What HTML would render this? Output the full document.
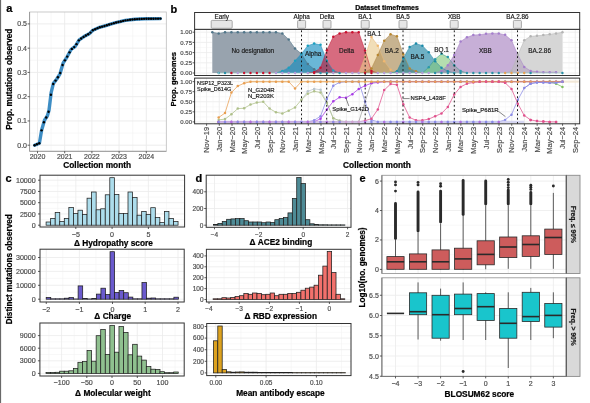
<!DOCTYPE html>
<html><head><meta charset="utf-8"><style>
html,body{margin:0;padding:0;background:#fff;width:590px;height:403px;overflow:hidden}
svg{display:block;font-family:"Liberation Sans", sans-serif;will-change:transform;filter:blur(0.35px)}
</style></head><body>
<svg width="590" height="403" viewBox="0 0 590 403">
<rect x="0" y="0" width="590" height="403" fill="#fff"/>
<line x1="0.6" y1="0" x2="0.6" y2="403" stroke="#5a5a5a" stroke-width="1"/>
<text x="6.2" y="11.6" font-size="11" text-anchor="start" font-weight="bold" fill="#000" stroke="#000" stroke-width="0.22">a</text>
<text x="170.6" y="12.8" font-size="11" text-anchor="start" font-weight="bold" fill="#000" stroke="#000" stroke-width="0.22">b</text>
<text x="5.4" y="182" font-size="11" text-anchor="start" font-weight="bold" fill="#000" stroke="#000" stroke-width="0.22">c</text>
<text x="195.4" y="181.6" font-size="11" text-anchor="start" font-weight="bold" fill="#000" stroke="#000" stroke-width="0.22">d</text>
<text x="359.6" y="181.6" font-size="11" text-anchor="start" font-weight="bold" fill="#000" stroke="#000" stroke-width="0.22">e</text>
<rect x="29.6" y="12" width="136.7" height="139.3" fill="#fff" stroke="none" stroke-width="1"/>
<line x1="29.6" y1="133.07" x2="166.3" y2="133.07" stroke="#F3F3F3" stroke-width="0.6"/>
<line x1="29.6" y1="108.81" x2="166.3" y2="108.81" stroke="#F3F3F3" stroke-width="0.6"/>
<line x1="29.6" y1="84.55" x2="166.3" y2="84.55" stroke="#F3F3F3" stroke-width="0.6"/>
<line x1="29.6" y1="60.29" x2="166.3" y2="60.29" stroke="#F3F3F3" stroke-width="0.6"/>
<line x1="29.6" y1="36.03" x2="166.3" y2="36.03" stroke="#F3F3F3" stroke-width="0.6"/>
<line x1="51.1" y1="12" x2="51.1" y2="151.3" stroke="#F3F3F3" stroke-width="0.6"/>
<line x1="78.3" y1="12" x2="78.3" y2="151.3" stroke="#F3F3F3" stroke-width="0.6"/>
<line x1="105.5" y1="12" x2="105.5" y2="151.3" stroke="#F3F3F3" stroke-width="0.6"/>
<line x1="132.7" y1="12" x2="132.7" y2="151.3" stroke="#F3F3F3" stroke-width="0.6"/>
<line x1="29.6" y1="145.2" x2="166.3" y2="145.2" stroke="#EBEBEB" stroke-width="0.9"/>
<line x1="29.6" y1="120.94" x2="166.3" y2="120.94" stroke="#EBEBEB" stroke-width="0.9"/>
<line x1="29.6" y1="96.68" x2="166.3" y2="96.68" stroke="#EBEBEB" stroke-width="0.9"/>
<line x1="29.6" y1="72.42" x2="166.3" y2="72.42" stroke="#EBEBEB" stroke-width="0.9"/>
<line x1="29.6" y1="48.16" x2="166.3" y2="48.16" stroke="#EBEBEB" stroke-width="0.9"/>
<line x1="29.6" y1="23.9" x2="166.3" y2="23.9" stroke="#EBEBEB" stroke-width="0.9"/>
<line x1="37.5" y1="12" x2="37.5" y2="151.3" stroke="#EBEBEB" stroke-width="0.9"/>
<line x1="64.7" y1="12" x2="64.7" y2="151.3" stroke="#EBEBEB" stroke-width="0.9"/>
<line x1="91.9" y1="12" x2="91.9" y2="151.3" stroke="#EBEBEB" stroke-width="0.9"/>
<line x1="119.1" y1="12" x2="119.1" y2="151.3" stroke="#EBEBEB" stroke-width="0.9"/>
<line x1="146.3" y1="12" x2="146.3" y2="151.3" stroke="#EBEBEB" stroke-width="0.9"/>
<rect x="29.6" y="12" width="136.7" height="139.3" fill="none" stroke="#BDBDBD" stroke-width="0.8"/>
<line x1="29.6" y1="12" x2="29.6" y2="151.3" stroke="#9a9a9a" stroke-width="1"/>
<line x1="29.6" y1="151.3" x2="166.3" y2="151.3" stroke="#9a9a9a" stroke-width="1"/>
<line x1="27.6" y1="145.2" x2="29.6" y2="145.2" stroke="#333" stroke-width="0.8"/>
<text x="27" y="147.7" font-size="7" text-anchor="end" font-weight="normal" fill="#4D4D4D" stroke="#4D4D4D" stroke-width="0.18">0.0</text>
<line x1="27.6" y1="120.94" x2="29.6" y2="120.94" stroke="#333" stroke-width="0.8"/>
<text x="27" y="123.44" font-size="7" text-anchor="end" font-weight="normal" fill="#4D4D4D" stroke="#4D4D4D" stroke-width="0.18">0.1</text>
<line x1="27.6" y1="96.68" x2="29.6" y2="96.68" stroke="#333" stroke-width="0.8"/>
<text x="27" y="99.18" font-size="7" text-anchor="end" font-weight="normal" fill="#4D4D4D" stroke="#4D4D4D" stroke-width="0.18">0.2</text>
<line x1="27.6" y1="72.42" x2="29.6" y2="72.42" stroke="#333" stroke-width="0.8"/>
<text x="27" y="74.92" font-size="7" text-anchor="end" font-weight="normal" fill="#4D4D4D" stroke="#4D4D4D" stroke-width="0.18">0.3</text>
<line x1="27.6" y1="48.16" x2="29.6" y2="48.16" stroke="#333" stroke-width="0.8"/>
<text x="27" y="50.66" font-size="7" text-anchor="end" font-weight="normal" fill="#4D4D4D" stroke="#4D4D4D" stroke-width="0.18">0.4</text>
<line x1="27.6" y1="23.9" x2="29.6" y2="23.9" stroke="#333" stroke-width="0.8"/>
<text x="27" y="26.4" font-size="7" text-anchor="end" font-weight="normal" fill="#4D4D4D" stroke="#4D4D4D" stroke-width="0.18">0.5</text>
<line x1="37.5" y1="151.3" x2="37.5" y2="153.3" stroke="#333" stroke-width="0.8"/>
<text x="37.5" y="159.2" font-size="7" text-anchor="middle" font-weight="normal" fill="#4D4D4D" stroke="#4D4D4D" stroke-width="0.18">2020</text>
<line x1="64.7" y1="151.3" x2="64.7" y2="153.3" stroke="#333" stroke-width="0.8"/>
<text x="64.7" y="159.2" font-size="7" text-anchor="middle" font-weight="normal" fill="#4D4D4D" stroke="#4D4D4D" stroke-width="0.18">2021</text>
<line x1="91.9" y1="151.3" x2="91.9" y2="153.3" stroke="#333" stroke-width="0.8"/>
<text x="91.9" y="159.2" font-size="7" text-anchor="middle" font-weight="normal" fill="#4D4D4D" stroke="#4D4D4D" stroke-width="0.18">2022</text>
<line x1="119.1" y1="151.3" x2="119.1" y2="153.3" stroke="#333" stroke-width="0.8"/>
<text x="119.1" y="159.2" font-size="7" text-anchor="middle" font-weight="normal" fill="#4D4D4D" stroke="#4D4D4D" stroke-width="0.18">2023</text>
<line x1="146.3" y1="151.3" x2="146.3" y2="153.3" stroke="#333" stroke-width="0.8"/>
<text x="146.3" y="159.2" font-size="7" text-anchor="middle" font-weight="normal" fill="#4D4D4D" stroke="#4D4D4D" stroke-width="0.18">2024</text>
<text x="97.2" y="167.9" font-size="8.3" text-anchor="middle" font-weight="bold" fill="#000" stroke="#000" stroke-width="0.22">Collection month</text>
<text x="12" y="79.2" font-size="8.2" text-anchor="middle" font-weight="bold" fill="#000" transform="rotate(-90 12 79.2)" stroke="#000" stroke-width="0.22">Prop. mutations observed</text>
<polyline points="34.6,145.2 39.4,143.2 41.6,130.3 44.5,120.2 47.4,115.8 49,110.2 51.2,92.3 53.4,83.4 56.8,79 60,73.8 63.1,63.2 67.1,56.8 71.1,49.5 75.2,46.3 79.2,39.8 84,36.6 89.7,33.4 92.9,30.2 98.5,27.7 105,25.8 114.7,22.9 125.3,20.4 135,19.2 144.7,18.8 160.4,18.6" fill="none" stroke="#3D8DC4" stroke-width="3.4" stroke-linejoin="round" stroke-linecap="round"/>
<circle cx="34.6" cy="145.2" r="1.2" fill="#000"/>
<circle cx="36.93" cy="144.23" r="1.2" fill="#000"/>
<circle cx="39.26" cy="143.26" r="1.2" fill="#000"/>
<circle cx="41.59" cy="130.37" r="1.2" fill="#000"/>
<circle cx="43.92" cy="122.23" r="1.2" fill="#000"/>
<circle cx="46.25" cy="117.55" r="1.2" fill="#000"/>
<circle cx="48.58" cy="111.68" r="1.2" fill="#000"/>
<circle cx="50.91" cy="94.68" r="1.2" fill="#000"/>
<circle cx="53.24" cy="84.06" r="1.2" fill="#000"/>
<circle cx="55.57" cy="80.6" r="1.2" fill="#000"/>
<circle cx="57.9" cy="77.22" r="1.2" fill="#000"/>
<circle cx="60.23" cy="73.03" r="1.2" fill="#000"/>
<circle cx="62.56" cy="65.06" r="1.2" fill="#000"/>
<circle cx="64.89" cy="60.34" r="1.2" fill="#000"/>
<circle cx="67.21" cy="56.59" r="1.2" fill="#000"/>
<circle cx="69.54" cy="52.34" r="1.2" fill="#000"/>
<circle cx="71.87" cy="48.9" r="1.2" fill="#000"/>
<circle cx="74.2" cy="47.08" r="1.2" fill="#000"/>
<circle cx="76.53" cy="44.13" r="1.2" fill="#000"/>
<circle cx="78.86" cy="40.35" r="1.2" fill="#000"/>
<circle cx="81.19" cy="38.47" r="1.2" fill="#000"/>
<circle cx="83.52" cy="36.92" r="1.2" fill="#000"/>
<circle cx="85.85" cy="35.56" r="1.2" fill="#000"/>
<circle cx="88.18" cy="34.25" r="1.2" fill="#000"/>
<circle cx="90.51" cy="32.59" r="1.2" fill="#000"/>
<circle cx="92.84" cy="30.26" r="1.2" fill="#000"/>
<circle cx="95.17" cy="29.19" r="1.2" fill="#000"/>
<circle cx="97.5" cy="28.15" r="1.2" fill="#000"/>
<circle cx="99.83" cy="27.31" r="1.2" fill="#000"/>
<circle cx="102.16" cy="26.63" r="1.2" fill="#000"/>
<circle cx="104.49" cy="25.95" r="1.2" fill="#000"/>
<circle cx="106.82" cy="25.26" r="1.2" fill="#000"/>
<circle cx="109.15" cy="24.56" r="1.2" fill="#000"/>
<circle cx="111.48" cy="23.86" r="1.2" fill="#000"/>
<circle cx="113.81" cy="23.17" r="1.2" fill="#000"/>
<circle cx="116.14" cy="22.56" r="1.2" fill="#000"/>
<circle cx="118.47" cy="22.01" r="1.2" fill="#000"/>
<circle cx="120.8" cy="21.46" r="1.2" fill="#000"/>
<circle cx="123.13" cy="20.91" r="1.2" fill="#000"/>
<circle cx="125.46" cy="20.38" r="1.2" fill="#000"/>
<circle cx="127.79" cy="20.09" r="1.2" fill="#000"/>
<circle cx="130.11" cy="19.8" r="1.2" fill="#000"/>
<circle cx="132.44" cy="19.52" r="1.2" fill="#000"/>
<circle cx="134.77" cy="19.23" r="1.2" fill="#000"/>
<circle cx="137.1" cy="19.11" r="1.2" fill="#000"/>
<circle cx="139.43" cy="19.02" r="1.2" fill="#000"/>
<circle cx="141.76" cy="18.92" r="1.2" fill="#000"/>
<circle cx="144.09" cy="18.83" r="1.2" fill="#000"/>
<circle cx="146.42" cy="18.78" r="1.2" fill="#000"/>
<circle cx="148.75" cy="18.75" r="1.2" fill="#000"/>
<circle cx="151.08" cy="18.72" r="1.2" fill="#000"/>
<circle cx="153.41" cy="18.69" r="1.2" fill="#000"/>
<circle cx="155.74" cy="18.66" r="1.2" fill="#000"/>
<circle cx="158.07" cy="18.63" r="1.2" fill="#000"/>
<circle cx="160.4" cy="18.6" r="1.2" fill="#000"/>
<text x="387" y="10.3" font-size="6.9" text-anchor="middle" font-weight="bold" fill="#000" stroke="#000" stroke-width="0.22">Dataset timeframes</text>
<rect x="194.6" y="12.5" width="385.1" height="16.9" fill="#fff" stroke="#333" stroke-width="1"/>
<rect x="211.2" y="20.4" width="21" height="7.9" fill="#E6E6E6" stroke="#8a8a8a" stroke-width="0.7" rx="1"/>
<text x="221.7" y="18.6" font-size="6.3" text-anchor="middle" font-weight="normal" fill="#1a1a1a" stroke="#1a1a1a" stroke-width="0.18">Early</text>
<rect x="297.6" y="20.4" width="8" height="7.9" fill="#E6E6E6" stroke="#8a8a8a" stroke-width="0.7" rx="1"/>
<text x="301.6" y="18.6" font-size="6.3" text-anchor="middle" font-weight="normal" fill="#1a1a1a" stroke="#1a1a1a" stroke-width="0.18">Alpha</text>
<rect x="323" y="20.4" width="8" height="7.9" fill="#E6E6E6" stroke="#8a8a8a" stroke-width="0.7" rx="1"/>
<text x="327" y="18.6" font-size="6.3" text-anchor="middle" font-weight="normal" fill="#1a1a1a" stroke="#1a1a1a" stroke-width="0.18">Delta</text>
<rect x="361.2" y="20.4" width="8" height="7.9" fill="#E6E6E6" stroke="#8a8a8a" stroke-width="0.7" rx="1"/>
<text x="365.2" y="18.6" font-size="6.3" text-anchor="middle" font-weight="normal" fill="#1a1a1a" stroke="#1a1a1a" stroke-width="0.18">BA.1</text>
<rect x="399" y="20.4" width="8" height="7.9" fill="#E6E6E6" stroke="#8a8a8a" stroke-width="0.7" rx="1"/>
<text x="403" y="18.6" font-size="6.3" text-anchor="middle" font-weight="normal" fill="#1a1a1a" stroke="#1a1a1a" stroke-width="0.18">BA.5</text>
<rect x="450.2" y="20.4" width="8" height="7.9" fill="#E6E6E6" stroke="#8a8a8a" stroke-width="0.7" rx="1"/>
<text x="454.2" y="18.6" font-size="6.3" text-anchor="middle" font-weight="normal" fill="#1a1a1a" stroke="#1a1a1a" stroke-width="0.18">XBB</text>
<rect x="513.4" y="20.4" width="8" height="7.9" fill="#E6E6E6" stroke="#8a8a8a" stroke-width="0.7" rx="1"/>
<text x="517.4" y="18.6" font-size="6.3" text-anchor="middle" font-weight="normal" fill="#1a1a1a" stroke="#1a1a1a" stroke-width="0.18">BA.2.86</text>
<rect x="194.6" y="29.4" width="385.1" height="46.1" fill="#fff" stroke="none" stroke-width="1"/>
<line x1="194.6" y1="67.9" x2="579.7" y2="67.9" stroke="#F2F2F2" stroke-width="0.5"/>
<line x1="194.6" y1="57.7" x2="579.7" y2="57.7" stroke="#F2F2F2" stroke-width="0.5"/>
<line x1="194.6" y1="47.5" x2="579.7" y2="47.5" stroke="#F2F2F2" stroke-width="0.5"/>
<line x1="194.6" y1="37.3" x2="579.7" y2="37.3" stroke="#F2F2F2" stroke-width="0.5"/>
<line x1="194.6" y1="73" x2="579.7" y2="73" stroke="#EBEBEB" stroke-width="0.8"/>
<line x1="194.6" y1="62.8" x2="579.7" y2="62.8" stroke="#EBEBEB" stroke-width="0.8"/>
<line x1="194.6" y1="52.6" x2="579.7" y2="52.6" stroke="#EBEBEB" stroke-width="0.8"/>
<line x1="194.6" y1="42.4" x2="579.7" y2="42.4" stroke="#EBEBEB" stroke-width="0.8"/>
<line x1="194.6" y1="32.2" x2="579.7" y2="32.2" stroke="#EBEBEB" stroke-width="0.8"/>
<line x1="200.24" y1="29.4" x2="200.24" y2="75.5" stroke="#F2F2F2" stroke-width="0.5"/>
<line x1="212.96" y1="29.4" x2="212.96" y2="75.5" stroke="#F2F2F2" stroke-width="0.5"/>
<line x1="225.67" y1="29.4" x2="225.67" y2="75.5" stroke="#F2F2F2" stroke-width="0.5"/>
<line x1="238.38" y1="29.4" x2="238.38" y2="75.5" stroke="#F2F2F2" stroke-width="0.5"/>
<line x1="251.1" y1="29.4" x2="251.1" y2="75.5" stroke="#F2F2F2" stroke-width="0.5"/>
<line x1="263.81" y1="29.4" x2="263.81" y2="75.5" stroke="#F2F2F2" stroke-width="0.5"/>
<line x1="276.53" y1="29.4" x2="276.53" y2="75.5" stroke="#F2F2F2" stroke-width="0.5"/>
<line x1="289.24" y1="29.4" x2="289.24" y2="75.5" stroke="#F2F2F2" stroke-width="0.5"/>
<line x1="301.95" y1="29.4" x2="301.95" y2="75.5" stroke="#F2F2F2" stroke-width="0.5"/>
<line x1="314.67" y1="29.4" x2="314.67" y2="75.5" stroke="#F2F2F2" stroke-width="0.5"/>
<line x1="327.38" y1="29.4" x2="327.38" y2="75.5" stroke="#F2F2F2" stroke-width="0.5"/>
<line x1="340.1" y1="29.4" x2="340.1" y2="75.5" stroke="#F2F2F2" stroke-width="0.5"/>
<line x1="352.81" y1="29.4" x2="352.81" y2="75.5" stroke="#F2F2F2" stroke-width="0.5"/>
<line x1="365.52" y1="29.4" x2="365.52" y2="75.5" stroke="#F2F2F2" stroke-width="0.5"/>
<line x1="378.24" y1="29.4" x2="378.24" y2="75.5" stroke="#F2F2F2" stroke-width="0.5"/>
<line x1="390.95" y1="29.4" x2="390.95" y2="75.5" stroke="#F2F2F2" stroke-width="0.5"/>
<line x1="403.67" y1="29.4" x2="403.67" y2="75.5" stroke="#F2F2F2" stroke-width="0.5"/>
<line x1="416.38" y1="29.4" x2="416.38" y2="75.5" stroke="#F2F2F2" stroke-width="0.5"/>
<line x1="429.09" y1="29.4" x2="429.09" y2="75.5" stroke="#F2F2F2" stroke-width="0.5"/>
<line x1="441.81" y1="29.4" x2="441.81" y2="75.5" stroke="#F2F2F2" stroke-width="0.5"/>
<line x1="454.52" y1="29.4" x2="454.52" y2="75.5" stroke="#F2F2F2" stroke-width="0.5"/>
<line x1="467.24" y1="29.4" x2="467.24" y2="75.5" stroke="#F2F2F2" stroke-width="0.5"/>
<line x1="479.95" y1="29.4" x2="479.95" y2="75.5" stroke="#F2F2F2" stroke-width="0.5"/>
<line x1="492.67" y1="29.4" x2="492.67" y2="75.5" stroke="#F2F2F2" stroke-width="0.5"/>
<line x1="505.38" y1="29.4" x2="505.38" y2="75.5" stroke="#F2F2F2" stroke-width="0.5"/>
<line x1="518.09" y1="29.4" x2="518.09" y2="75.5" stroke="#F2F2F2" stroke-width="0.5"/>
<line x1="530.81" y1="29.4" x2="530.81" y2="75.5" stroke="#F2F2F2" stroke-width="0.5"/>
<line x1="543.52" y1="29.4" x2="543.52" y2="75.5" stroke="#F2F2F2" stroke-width="0.5"/>
<line x1="556.24" y1="29.4" x2="556.24" y2="75.5" stroke="#F2F2F2" stroke-width="0.5"/>
<line x1="568.95" y1="29.4" x2="568.95" y2="75.5" stroke="#F2F2F2" stroke-width="0.5"/>
<line x1="206.6" y1="29.4" x2="206.6" y2="75.5" stroke="#EBEBEB" stroke-width="0.8"/>
<line x1="219.31" y1="29.4" x2="219.31" y2="75.5" stroke="#EBEBEB" stroke-width="0.8"/>
<line x1="232.03" y1="29.4" x2="232.03" y2="75.5" stroke="#EBEBEB" stroke-width="0.8"/>
<line x1="244.74" y1="29.4" x2="244.74" y2="75.5" stroke="#EBEBEB" stroke-width="0.8"/>
<line x1="257.46" y1="29.4" x2="257.46" y2="75.5" stroke="#EBEBEB" stroke-width="0.8"/>
<line x1="270.17" y1="29.4" x2="270.17" y2="75.5" stroke="#EBEBEB" stroke-width="0.8"/>
<line x1="282.88" y1="29.4" x2="282.88" y2="75.5" stroke="#EBEBEB" stroke-width="0.8"/>
<line x1="295.6" y1="29.4" x2="295.6" y2="75.5" stroke="#EBEBEB" stroke-width="0.8"/>
<line x1="308.31" y1="29.4" x2="308.31" y2="75.5" stroke="#EBEBEB" stroke-width="0.8"/>
<line x1="321.03" y1="29.4" x2="321.03" y2="75.5" stroke="#EBEBEB" stroke-width="0.8"/>
<line x1="333.74" y1="29.4" x2="333.74" y2="75.5" stroke="#EBEBEB" stroke-width="0.8"/>
<line x1="346.45" y1="29.4" x2="346.45" y2="75.5" stroke="#EBEBEB" stroke-width="0.8"/>
<line x1="359.17" y1="29.4" x2="359.17" y2="75.5" stroke="#EBEBEB" stroke-width="0.8"/>
<line x1="371.88" y1="29.4" x2="371.88" y2="75.5" stroke="#EBEBEB" stroke-width="0.8"/>
<line x1="384.6" y1="29.4" x2="384.6" y2="75.5" stroke="#EBEBEB" stroke-width="0.8"/>
<line x1="397.31" y1="29.4" x2="397.31" y2="75.5" stroke="#EBEBEB" stroke-width="0.8"/>
<line x1="410.02" y1="29.4" x2="410.02" y2="75.5" stroke="#EBEBEB" stroke-width="0.8"/>
<line x1="422.74" y1="29.4" x2="422.74" y2="75.5" stroke="#EBEBEB" stroke-width="0.8"/>
<line x1="435.45" y1="29.4" x2="435.45" y2="75.5" stroke="#EBEBEB" stroke-width="0.8"/>
<line x1="448.17" y1="29.4" x2="448.17" y2="75.5" stroke="#EBEBEB" stroke-width="0.8"/>
<line x1="460.88" y1="29.4" x2="460.88" y2="75.5" stroke="#EBEBEB" stroke-width="0.8"/>
<line x1="473.59" y1="29.4" x2="473.59" y2="75.5" stroke="#EBEBEB" stroke-width="0.8"/>
<line x1="486.31" y1="29.4" x2="486.31" y2="75.5" stroke="#EBEBEB" stroke-width="0.8"/>
<line x1="499.02" y1="29.4" x2="499.02" y2="75.5" stroke="#EBEBEB" stroke-width="0.8"/>
<line x1="511.74" y1="29.4" x2="511.74" y2="75.5" stroke="#EBEBEB" stroke-width="0.8"/>
<line x1="524.45" y1="29.4" x2="524.45" y2="75.5" stroke="#EBEBEB" stroke-width="0.8"/>
<line x1="537.16" y1="29.4" x2="537.16" y2="75.5" stroke="#EBEBEB" stroke-width="0.8"/>
<line x1="549.88" y1="29.4" x2="549.88" y2="75.5" stroke="#EBEBEB" stroke-width="0.8"/>
<line x1="562.59" y1="29.4" x2="562.59" y2="75.5" stroke="#EBEBEB" stroke-width="0.8"/>
<line x1="575.31" y1="29.4" x2="575.31" y2="75.5" stroke="#EBEBEB" stroke-width="0.8"/>
<rect x="194.6" y="78.1" width="385.1" height="45.7" fill="#fff" stroke="none" stroke-width="1"/>
<line x1="194.6" y1="116.87" x2="579.7" y2="116.87" stroke="#F2F2F2" stroke-width="0.5"/>
<line x1="194.6" y1="106.81" x2="579.7" y2="106.81" stroke="#F2F2F2" stroke-width="0.5"/>
<line x1="194.6" y1="96.74" x2="579.7" y2="96.74" stroke="#F2F2F2" stroke-width="0.5"/>
<line x1="194.6" y1="86.68" x2="579.7" y2="86.68" stroke="#F2F2F2" stroke-width="0.5"/>
<line x1="194.6" y1="121.9" x2="579.7" y2="121.9" stroke="#EBEBEB" stroke-width="0.8"/>
<line x1="194.6" y1="111.84" x2="579.7" y2="111.84" stroke="#EBEBEB" stroke-width="0.8"/>
<line x1="194.6" y1="101.78" x2="579.7" y2="101.78" stroke="#EBEBEB" stroke-width="0.8"/>
<line x1="194.6" y1="91.71" x2="579.7" y2="91.71" stroke="#EBEBEB" stroke-width="0.8"/>
<line x1="194.6" y1="81.65" x2="579.7" y2="81.65" stroke="#EBEBEB" stroke-width="0.8"/>
<line x1="200.24" y1="78.1" x2="200.24" y2="123.8" stroke="#F2F2F2" stroke-width="0.5"/>
<line x1="212.96" y1="78.1" x2="212.96" y2="123.8" stroke="#F2F2F2" stroke-width="0.5"/>
<line x1="225.67" y1="78.1" x2="225.67" y2="123.8" stroke="#F2F2F2" stroke-width="0.5"/>
<line x1="238.38" y1="78.1" x2="238.38" y2="123.8" stroke="#F2F2F2" stroke-width="0.5"/>
<line x1="251.1" y1="78.1" x2="251.1" y2="123.8" stroke="#F2F2F2" stroke-width="0.5"/>
<line x1="263.81" y1="78.1" x2="263.81" y2="123.8" stroke="#F2F2F2" stroke-width="0.5"/>
<line x1="276.53" y1="78.1" x2="276.53" y2="123.8" stroke="#F2F2F2" stroke-width="0.5"/>
<line x1="289.24" y1="78.1" x2="289.24" y2="123.8" stroke="#F2F2F2" stroke-width="0.5"/>
<line x1="301.95" y1="78.1" x2="301.95" y2="123.8" stroke="#F2F2F2" stroke-width="0.5"/>
<line x1="314.67" y1="78.1" x2="314.67" y2="123.8" stroke="#F2F2F2" stroke-width="0.5"/>
<line x1="327.38" y1="78.1" x2="327.38" y2="123.8" stroke="#F2F2F2" stroke-width="0.5"/>
<line x1="340.1" y1="78.1" x2="340.1" y2="123.8" stroke="#F2F2F2" stroke-width="0.5"/>
<line x1="352.81" y1="78.1" x2="352.81" y2="123.8" stroke="#F2F2F2" stroke-width="0.5"/>
<line x1="365.52" y1="78.1" x2="365.52" y2="123.8" stroke="#F2F2F2" stroke-width="0.5"/>
<line x1="378.24" y1="78.1" x2="378.24" y2="123.8" stroke="#F2F2F2" stroke-width="0.5"/>
<line x1="390.95" y1="78.1" x2="390.95" y2="123.8" stroke="#F2F2F2" stroke-width="0.5"/>
<line x1="403.67" y1="78.1" x2="403.67" y2="123.8" stroke="#F2F2F2" stroke-width="0.5"/>
<line x1="416.38" y1="78.1" x2="416.38" y2="123.8" stroke="#F2F2F2" stroke-width="0.5"/>
<line x1="429.09" y1="78.1" x2="429.09" y2="123.8" stroke="#F2F2F2" stroke-width="0.5"/>
<line x1="441.81" y1="78.1" x2="441.81" y2="123.8" stroke="#F2F2F2" stroke-width="0.5"/>
<line x1="454.52" y1="78.1" x2="454.52" y2="123.8" stroke="#F2F2F2" stroke-width="0.5"/>
<line x1="467.24" y1="78.1" x2="467.24" y2="123.8" stroke="#F2F2F2" stroke-width="0.5"/>
<line x1="479.95" y1="78.1" x2="479.95" y2="123.8" stroke="#F2F2F2" stroke-width="0.5"/>
<line x1="492.67" y1="78.1" x2="492.67" y2="123.8" stroke="#F2F2F2" stroke-width="0.5"/>
<line x1="505.38" y1="78.1" x2="505.38" y2="123.8" stroke="#F2F2F2" stroke-width="0.5"/>
<line x1="518.09" y1="78.1" x2="518.09" y2="123.8" stroke="#F2F2F2" stroke-width="0.5"/>
<line x1="530.81" y1="78.1" x2="530.81" y2="123.8" stroke="#F2F2F2" stroke-width="0.5"/>
<line x1="543.52" y1="78.1" x2="543.52" y2="123.8" stroke="#F2F2F2" stroke-width="0.5"/>
<line x1="556.24" y1="78.1" x2="556.24" y2="123.8" stroke="#F2F2F2" stroke-width="0.5"/>
<line x1="568.95" y1="78.1" x2="568.95" y2="123.8" stroke="#F2F2F2" stroke-width="0.5"/>
<line x1="206.6" y1="78.1" x2="206.6" y2="123.8" stroke="#EBEBEB" stroke-width="0.8"/>
<line x1="219.31" y1="78.1" x2="219.31" y2="123.8" stroke="#EBEBEB" stroke-width="0.8"/>
<line x1="232.03" y1="78.1" x2="232.03" y2="123.8" stroke="#EBEBEB" stroke-width="0.8"/>
<line x1="244.74" y1="78.1" x2="244.74" y2="123.8" stroke="#EBEBEB" stroke-width="0.8"/>
<line x1="257.46" y1="78.1" x2="257.46" y2="123.8" stroke="#EBEBEB" stroke-width="0.8"/>
<line x1="270.17" y1="78.1" x2="270.17" y2="123.8" stroke="#EBEBEB" stroke-width="0.8"/>
<line x1="282.88" y1="78.1" x2="282.88" y2="123.8" stroke="#EBEBEB" stroke-width="0.8"/>
<line x1="295.6" y1="78.1" x2="295.6" y2="123.8" stroke="#EBEBEB" stroke-width="0.8"/>
<line x1="308.31" y1="78.1" x2="308.31" y2="123.8" stroke="#EBEBEB" stroke-width="0.8"/>
<line x1="321.03" y1="78.1" x2="321.03" y2="123.8" stroke="#EBEBEB" stroke-width="0.8"/>
<line x1="333.74" y1="78.1" x2="333.74" y2="123.8" stroke="#EBEBEB" stroke-width="0.8"/>
<line x1="346.45" y1="78.1" x2="346.45" y2="123.8" stroke="#EBEBEB" stroke-width="0.8"/>
<line x1="359.17" y1="78.1" x2="359.17" y2="123.8" stroke="#EBEBEB" stroke-width="0.8"/>
<line x1="371.88" y1="78.1" x2="371.88" y2="123.8" stroke="#EBEBEB" stroke-width="0.8"/>
<line x1="384.6" y1="78.1" x2="384.6" y2="123.8" stroke="#EBEBEB" stroke-width="0.8"/>
<line x1="397.31" y1="78.1" x2="397.31" y2="123.8" stroke="#EBEBEB" stroke-width="0.8"/>
<line x1="410.02" y1="78.1" x2="410.02" y2="123.8" stroke="#EBEBEB" stroke-width="0.8"/>
<line x1="422.74" y1="78.1" x2="422.74" y2="123.8" stroke="#EBEBEB" stroke-width="0.8"/>
<line x1="435.45" y1="78.1" x2="435.45" y2="123.8" stroke="#EBEBEB" stroke-width="0.8"/>
<line x1="448.17" y1="78.1" x2="448.17" y2="123.8" stroke="#EBEBEB" stroke-width="0.8"/>
<line x1="460.88" y1="78.1" x2="460.88" y2="123.8" stroke="#EBEBEB" stroke-width="0.8"/>
<line x1="473.59" y1="78.1" x2="473.59" y2="123.8" stroke="#EBEBEB" stroke-width="0.8"/>
<line x1="486.31" y1="78.1" x2="486.31" y2="123.8" stroke="#EBEBEB" stroke-width="0.8"/>
<line x1="499.02" y1="78.1" x2="499.02" y2="123.8" stroke="#EBEBEB" stroke-width="0.8"/>
<line x1="511.74" y1="78.1" x2="511.74" y2="123.8" stroke="#EBEBEB" stroke-width="0.8"/>
<line x1="524.45" y1="78.1" x2="524.45" y2="123.8" stroke="#EBEBEB" stroke-width="0.8"/>
<line x1="537.16" y1="78.1" x2="537.16" y2="123.8" stroke="#EBEBEB" stroke-width="0.8"/>
<line x1="549.88" y1="78.1" x2="549.88" y2="123.8" stroke="#EBEBEB" stroke-width="0.8"/>
<line x1="562.59" y1="78.1" x2="562.59" y2="123.8" stroke="#EBEBEB" stroke-width="0.8"/>
<line x1="575.31" y1="78.1" x2="575.31" y2="123.8" stroke="#EBEBEB" stroke-width="0.8"/>
<polygon points="212.3,73 212.3,32.2 218.67,33.42 225.03,32.2 231.4,32.2 237.76,32.2 244.13,32.2 250.5,32.2 256.86,32.2 263.23,32.2 269.59,32.2 275.96,32.2 282.33,33.42 288.69,39.54 295.06,48.52 301.42,53.82 307.79,64.02 314.16,69.33 320.52,73 320.52,73" fill="#fff" stroke="none" stroke-width="0"/>
<polygon points="275.96,73 275.96,73 282.33,70.96 288.69,67.7 295.06,60.76 301.42,53.82 307.79,45.66 314.16,43.62 320.52,44.85 326.89,60.76 333.25,70.55 339.62,73 339.62,73" fill="#fff" stroke="none" stroke-width="0"/>
<polygon points="307.79,73 307.79,73 314.16,72.18 320.52,67.7 326.89,50.15 333.25,36.69 339.62,33.42 345.99,32.2 352.35,32.2 358.72,32.2 365.08,50.56 371.45,70.96 377.82,73 377.82,73" fill="#fff" stroke="none" stroke-width="0"/>
<polygon points="358.72,73 358.72,73 365.08,56.68 371.45,36.89 377.82,45.66 384.18,61.17 390.55,69.74 396.91,73 396.91,73" fill="#fff" stroke="none" stroke-width="0"/>
<polygon points="358.72,73 358.72,73 365.08,72.18 371.45,68.51 377.82,55.05 384.18,40.77 390.55,34.24 396.91,36.28 403.28,54.23 409.65,68.51 416.01,71.37 422.38,73 422.38,73" fill="#fff" stroke="none" stroke-width="0"/>
<polygon points="390.55,73 390.55,73 396.91,71.37 403.28,58.31 409.65,46.89 416.01,43.62 422.38,45.66 428.74,52.19 435.11,61.17 441.48,67.7 447.84,71.37 454.21,73 454.21,73" fill="#fff" stroke="none" stroke-width="0"/>
<polygon points="422.38,73 422.38,73 428.74,67.29 435.11,59.13 441.48,53.82 447.84,57.09 454.21,65.25 460.57,70.96 466.94,73 466.94,73" fill="#fff" stroke="none" stroke-width="0"/>
<polygon points="435.11,73 435.11,73 441.48,70.96 447.84,65.25 454.21,55.05 460.57,41.58 466.94,37.3 473.31,35.06 479.67,34.65 486.04,33.83 492.4,33.42 498.77,33.42 505.14,34.85 511.5,40.36 517.87,55.05 524.23,66.88 530.6,70.96 536.97,71.78 543.33,72.18 549.7,72.18 556.06,72.18 556.06,73" fill="#fff" stroke="none" stroke-width="0"/>
<polygon points="505.14,73 505.14,73 511.5,70.96 517.87,55.05 524.23,40.36 530.6,36.28 536.97,35.87 543.33,35.06 549.7,34.24 556.06,33.42 562.43,32.2 562.43,73" fill="#fff" stroke="none" stroke-width="0"/>
<polygon points="212.3,73 212.3,32.2 218.67,33.42 225.03,32.2 231.4,32.2 237.76,32.2 244.13,32.2 250.5,32.2 256.86,32.2 263.23,32.2 269.59,32.2 275.96,32.2 282.33,33.42 288.69,39.54 295.06,48.52 301.42,53.82 307.79,64.02 314.16,69.33 320.52,73 320.52,73" fill="#586B7C" stroke="none" stroke-width="0" fill-opacity="0.62"/>
<polygon points="275.96,73 275.96,73 282.33,70.96 288.69,67.7 295.06,60.76 301.42,53.82 307.79,45.66 314.16,43.62 320.52,44.85 326.89,60.76 333.25,70.55 339.62,73 339.62,73" fill="#0E8BBE" stroke="none" stroke-width="0" fill-opacity="0.62"/>
<polygon points="307.79,73 307.79,73 314.16,72.18 320.52,67.7 326.89,50.15 333.25,36.69 339.62,33.42 345.99,32.2 352.35,32.2 358.72,32.2 365.08,50.56 371.45,70.96 377.82,73 377.82,73" fill="#BE1030" stroke="none" stroke-width="0" fill-opacity="0.62"/>
<polygon points="358.72,73 358.72,73 365.08,56.68 371.45,36.89 377.82,45.66 384.18,61.17 390.55,69.74 396.91,73 396.91,73" fill="#E8C98C" stroke="none" stroke-width="0" fill-opacity="0.62"/>
<polygon points="358.72,73 358.72,73 365.08,72.18 371.45,68.51 377.82,55.05 384.18,40.77 390.55,34.24 396.91,36.28 403.28,54.23 409.65,68.51 416.01,71.37 422.38,73 422.38,73" fill="#A5854C" stroke="none" stroke-width="0" fill-opacity="0.62"/>
<polygon points="390.55,73 390.55,73 396.91,71.37 403.28,58.31 409.65,46.89 416.01,43.62 422.38,45.66 428.74,52.19 435.11,61.17 441.48,67.7 447.84,71.37 454.21,73 454.21,73" fill="#157F9F" stroke="none" stroke-width="0" fill-opacity="0.62"/>
<polygon points="422.38,73 422.38,73 428.74,67.29 435.11,59.13 441.48,53.82 447.84,57.09 454.21,65.25 460.57,70.96 466.94,73 466.94,73" fill="#86C97E" stroke="none" stroke-width="0" fill-opacity="0.62"/>
<polygon points="435.11,73 435.11,73 441.48,70.96 447.84,65.25 454.21,55.05 460.57,41.58 466.94,37.3 473.31,35.06 479.67,34.65 486.04,33.83 492.4,33.42 498.77,33.42 505.14,34.85 511.5,40.36 517.87,55.05 524.23,66.88 530.6,70.96 536.97,71.78 543.33,72.18 549.7,72.18 556.06,72.18 556.06,73" fill="#A47EBE" stroke="none" stroke-width="0" fill-opacity="0.62"/>
<polygon points="505.14,73 505.14,73 511.5,70.96 517.87,55.05 524.23,40.36 530.6,36.28 536.97,35.87 543.33,35.06 549.7,34.24 556.06,33.42 562.43,32.2 562.43,73" fill="#BDBDBD" stroke="none" stroke-width="0" fill-opacity="0.62"/>
<polyline points="212.3,32.2 218.67,33.42 225.03,32.2 231.4,32.2 237.76,32.2 244.13,32.2 250.5,32.2 256.86,32.2 263.23,32.2 269.59,32.2 275.96,32.2 282.33,33.42 288.69,39.54 295.06,48.52 301.42,53.82 307.79,64.02 314.16,69.33 320.52,73" fill="none" stroke="#4F7488" stroke-width="0.6" stroke-opacity="0.9"/>
<circle cx="212.3" cy="32.2" r="1.25" fill="#4F7488"/>
<circle cx="218.67" cy="33.42" r="1.25" fill="#4F7488"/>
<circle cx="225.03" cy="32.2" r="1.25" fill="#4F7488"/>
<circle cx="231.4" cy="32.2" r="1.25" fill="#4F7488"/>
<circle cx="237.76" cy="32.2" r="1.25" fill="#4F7488"/>
<circle cx="244.13" cy="32.2" r="1.25" fill="#4F7488"/>
<circle cx="250.5" cy="32.2" r="1.25" fill="#4F7488"/>
<circle cx="256.86" cy="32.2" r="1.25" fill="#4F7488"/>
<circle cx="263.23" cy="32.2" r="1.25" fill="#4F7488"/>
<circle cx="269.59" cy="32.2" r="1.25" fill="#4F7488"/>
<circle cx="275.96" cy="32.2" r="1.25" fill="#4F7488"/>
<circle cx="282.33" cy="33.42" r="1.25" fill="#4F7488"/>
<circle cx="288.69" cy="39.54" r="1.25" fill="#4F7488"/>
<circle cx="295.06" cy="48.52" r="1.25" fill="#4F7488"/>
<circle cx="301.42" cy="53.82" r="1.25" fill="#4F7488"/>
<circle cx="307.79" cy="64.02" r="1.25" fill="#4F7488"/>
<circle cx="314.16" cy="69.33" r="1.25" fill="#4F7488"/>
<polyline points="275.96,73 282.33,70.96 288.69,67.7 295.06,60.76 301.42,53.82 307.79,45.66 314.16,43.62 320.52,44.85 326.89,60.76 333.25,70.55 339.62,73" fill="none" stroke="#2A8FB8" stroke-width="0.6" stroke-opacity="0.9"/>
<circle cx="282.33" cy="70.96" r="1.25" fill="#1AA0C0"/>
<circle cx="288.69" cy="67.7" r="1.25" fill="#1AA0C0"/>
<circle cx="295.06" cy="60.76" r="1.25" fill="#1AA0C0"/>
<circle cx="301.42" cy="53.82" r="1.25" fill="#1AA0C0"/>
<circle cx="307.79" cy="45.66" r="1.25" fill="#1AA0C0"/>
<circle cx="314.16" cy="43.62" r="1.25" fill="#1AA0C0"/>
<circle cx="320.52" cy="44.85" r="1.25" fill="#1AA0C0"/>
<circle cx="326.89" cy="60.76" r="1.25" fill="#1AA0C0"/>
<circle cx="333.25" cy="70.55" r="1.25" fill="#1AA0C0"/>
<polyline points="307.79,73 314.16,72.18 320.52,67.7 326.89,50.15 333.25,36.69 339.62,33.42 345.99,32.2 352.35,32.2 358.72,32.2 365.08,50.56 371.45,70.96 377.82,73" fill="none" stroke="#C81E3A" stroke-width="0.6" stroke-opacity="0.9"/>
<circle cx="314.16" cy="72.18" r="1.25" fill="#C8102E"/>
<circle cx="320.52" cy="67.7" r="1.25" fill="#C8102E"/>
<circle cx="326.89" cy="50.15" r="1.25" fill="#C8102E"/>
<circle cx="333.25" cy="36.69" r="1.25" fill="#C8102E"/>
<circle cx="339.62" cy="33.42" r="1.25" fill="#C8102E"/>
<circle cx="345.99" cy="32.2" r="1.25" fill="#C8102E"/>
<circle cx="352.35" cy="32.2" r="1.25" fill="#C8102E"/>
<circle cx="358.72" cy="32.2" r="1.25" fill="#C8102E"/>
<circle cx="365.08" cy="50.56" r="1.25" fill="#C8102E"/>
<circle cx="371.45" cy="70.96" r="1.25" fill="#C8102E"/>
<polyline points="358.72,73 365.08,56.68 371.45,36.89 377.82,45.66 384.18,61.17 390.55,69.74 396.91,73" fill="none" stroke="#E8B878" stroke-width="0.6" stroke-opacity="0.9"/>
<circle cx="365.08" cy="56.68" r="1.25" fill="#F0B870"/>
<circle cx="371.45" cy="36.89" r="1.25" fill="#F0B870"/>
<circle cx="377.82" cy="45.66" r="1.25" fill="#F0B870"/>
<circle cx="384.18" cy="61.17" r="1.25" fill="#F0B870"/>
<circle cx="390.55" cy="69.74" r="1.25" fill="#F0B870"/>
<polyline points="358.72,73 365.08,72.18 371.45,68.51 377.82,55.05 384.18,40.77 390.55,34.24 396.91,36.28 403.28,54.23 409.65,68.51 416.01,71.37 422.38,73" fill="none" stroke="#B08848" stroke-width="0.6" stroke-opacity="0.9"/>
<circle cx="365.08" cy="72.18" r="1.25" fill="#B8862E"/>
<circle cx="371.45" cy="68.51" r="1.25" fill="#B8862E"/>
<circle cx="377.82" cy="55.05" r="1.25" fill="#B8862E"/>
<circle cx="384.18" cy="40.77" r="1.25" fill="#B8862E"/>
<circle cx="390.55" cy="34.24" r="1.25" fill="#B8862E"/>
<circle cx="396.91" cy="36.28" r="1.25" fill="#B8862E"/>
<circle cx="403.28" cy="54.23" r="1.25" fill="#B8862E"/>
<circle cx="409.65" cy="68.51" r="1.25" fill="#B8862E"/>
<circle cx="416.01" cy="71.37" r="1.25" fill="#B8862E"/>
<polyline points="390.55,73 396.91,71.37 403.28,58.31 409.65,46.89 416.01,43.62 422.38,45.66 428.74,52.19 435.11,61.17 441.48,67.7 447.84,71.37 454.21,73" fill="none" stroke="#2A8AA5" stroke-width="0.6" stroke-opacity="0.9"/>
<circle cx="396.91" cy="71.37" r="1.25" fill="#1A8AAA"/>
<circle cx="403.28" cy="58.31" r="1.25" fill="#1A8AAA"/>
<circle cx="409.65" cy="46.89" r="1.25" fill="#1A8AAA"/>
<circle cx="416.01" cy="43.62" r="1.25" fill="#1A8AAA"/>
<circle cx="422.38" cy="45.66" r="1.25" fill="#1A8AAA"/>
<circle cx="428.74" cy="52.19" r="1.25" fill="#1A8AAA"/>
<circle cx="435.11" cy="61.17" r="1.25" fill="#1A8AAA"/>
<circle cx="441.48" cy="67.7" r="1.25" fill="#1A8AAA"/>
<circle cx="447.84" cy="71.37" r="1.25" fill="#1A8AAA"/>
<polyline points="422.38,73 428.74,67.29 435.11,59.13 441.48,53.82 447.84,57.09 454.21,65.25 460.57,70.96 466.94,73" fill="none" stroke="#3A9A88" stroke-width="0.6" stroke-opacity="0.9"/>
<circle cx="428.74" cy="67.29" r="1.25" fill="#2A9AAA"/>
<circle cx="435.11" cy="59.13" r="1.25" fill="#2A9AAA"/>
<circle cx="441.48" cy="53.82" r="1.25" fill="#2A9AAA"/>
<circle cx="447.84" cy="57.09" r="1.25" fill="#2A9AAA"/>
<circle cx="454.21" cy="65.25" r="1.25" fill="#2A9AAA"/>
<circle cx="460.57" cy="70.96" r="1.25" fill="#2A9AAA"/>
<polyline points="435.11,73 441.48,70.96 447.84,65.25 454.21,55.05 460.57,41.58 466.94,37.3 473.31,35.06 479.67,34.65 486.04,33.83 492.4,33.42 498.77,33.42 505.14,34.85 511.5,40.36 517.87,55.05 524.23,66.88 530.6,70.96 536.97,71.78 543.33,72.18 549.7,72.18 556.06,72.18" fill="none" stroke="#A880C8" stroke-width="0.6" stroke-opacity="0.9"/>
<circle cx="441.48" cy="70.96" r="1.25" fill="#A47ECC"/>
<circle cx="447.84" cy="65.25" r="1.25" fill="#A47ECC"/>
<circle cx="454.21" cy="55.05" r="1.25" fill="#A47ECC"/>
<circle cx="460.57" cy="41.58" r="1.25" fill="#A47ECC"/>
<circle cx="466.94" cy="37.3" r="1.25" fill="#A47ECC"/>
<circle cx="473.31" cy="35.06" r="1.25" fill="#A47ECC"/>
<circle cx="479.67" cy="34.65" r="1.25" fill="#A47ECC"/>
<circle cx="486.04" cy="33.83" r="1.25" fill="#A47ECC"/>
<circle cx="492.4" cy="33.42" r="1.25" fill="#A47ECC"/>
<circle cx="498.77" cy="33.42" r="1.25" fill="#A47ECC"/>
<circle cx="505.14" cy="34.85" r="1.25" fill="#A47ECC"/>
<circle cx="511.5" cy="40.36" r="1.25" fill="#A47ECC"/>
<circle cx="517.87" cy="55.05" r="1.25" fill="#A47ECC"/>
<circle cx="524.23" cy="66.88" r="1.25" fill="#A47ECC"/>
<circle cx="530.6" cy="70.96" r="1.25" fill="#A47ECC"/>
<circle cx="536.97" cy="71.78" r="1.25" fill="#A47ECC"/>
<circle cx="543.33" cy="72.18" r="1.25" fill="#A47ECC"/>
<circle cx="549.7" cy="72.18" r="1.25" fill="#A47ECC"/>
<circle cx="556.06" cy="72.18" r="1.25" fill="#A47ECC"/>
<polyline points="505.14,73 511.5,70.96 517.87,55.05 524.23,40.36 530.6,36.28 536.97,35.87 543.33,35.06 549.7,34.24 556.06,33.42 562.43,32.2" fill="none" stroke="#B4B4B4" stroke-width="0.6" stroke-opacity="0.9"/>
<circle cx="511.5" cy="70.96" r="1.25" fill="#B4B4B4"/>
<circle cx="517.87" cy="55.05" r="1.25" fill="#B4B4B4"/>
<circle cx="524.23" cy="40.36" r="1.25" fill="#B4B4B4"/>
<circle cx="530.6" cy="36.28" r="1.25" fill="#B4B4B4"/>
<circle cx="536.97" cy="35.87" r="1.25" fill="#B4B4B4"/>
<circle cx="543.33" cy="35.06" r="1.25" fill="#B4B4B4"/>
<circle cx="549.7" cy="34.24" r="1.25" fill="#B4B4B4"/>
<circle cx="556.06" cy="33.42" r="1.25" fill="#B4B4B4"/>
<circle cx="562.43" cy="32.2" r="1.25" fill="#B4B4B4"/>
<line x1="218.67" y1="73" x2="562.43" y2="73" stroke="#9AC8C0" stroke-width="0.7"/>
<circle cx="218.67" cy="73" r="1.2" fill="#2A90A8"/>
<circle cx="225.03" cy="73" r="1.2" fill="#2A90A8"/>
<circle cx="231.4" cy="73" r="1.2" fill="#C8102E"/>
<circle cx="237.76" cy="73" r="1.2" fill="#B69BDB"/>
<circle cx="244.13" cy="73" r="1.2" fill="#C8102E"/>
<circle cx="250.5" cy="73" r="1.2" fill="#C8102E"/>
<circle cx="256.86" cy="73" r="1.2" fill="#C8102E"/>
<circle cx="263.23" cy="73" r="1.2" fill="#C8102E"/>
<circle cx="269.59" cy="73" r="1.2" fill="#C8102E"/>
<circle cx="275.96" cy="73" r="1.2" fill="#B69BDB"/>
<circle cx="282.33" cy="73" r="1.2" fill="#B69BDB"/>
<circle cx="288.69" cy="73" r="1.2" fill="#B69BDB"/>
<circle cx="295.06" cy="73" r="1.2" fill="#B69BDB"/>
<circle cx="301.42" cy="73" r="1.2" fill="#B69BDB"/>
<circle cx="307.79" cy="73" r="1.2" fill="#B69BDB"/>
<circle cx="314.16" cy="73" r="1.2" fill="#C8102E"/>
<circle cx="320.52" cy="73" r="1.2" fill="#2A90A8"/>
<circle cx="326.89" cy="73" r="1.2" fill="#2A90A8"/>
<circle cx="333.25" cy="73" r="1.2" fill="#B69BDB"/>
<circle cx="339.62" cy="73" r="1.2" fill="#2A90A8"/>
<circle cx="345.99" cy="73" r="1.2" fill="#B69BDB"/>
<circle cx="352.35" cy="73" r="1.2" fill="#B69BDB"/>
<circle cx="358.72" cy="73" r="1.2" fill="#B69BDB"/>
<circle cx="365.08" cy="73" r="1.2" fill="#C8102E"/>
<circle cx="371.45" cy="73" r="1.2" fill="#C8102E"/>
<circle cx="377.82" cy="73" r="1.2" fill="#B69BDB"/>
<circle cx="384.18" cy="73" r="1.2" fill="#B69BDB"/>
<circle cx="390.55" cy="73" r="1.2" fill="#B69BDB"/>
<circle cx="396.91" cy="73" r="1.2" fill="#B69BDB"/>
<circle cx="403.28" cy="73" r="1.2" fill="#B69BDB"/>
<circle cx="409.65" cy="73" r="1.2" fill="#B69BDB"/>
<circle cx="416.01" cy="73" r="1.2" fill="#B69BDB"/>
<circle cx="422.38" cy="73" r="1.2" fill="#B69BDB"/>
<circle cx="428.74" cy="73" r="1.2" fill="#B69BDB"/>
<circle cx="435.11" cy="73" r="1.2" fill="#2A90A8"/>
<circle cx="441.48" cy="73" r="1.2" fill="#2A90A8"/>
<circle cx="447.84" cy="73" r="1.2" fill="#2A90A8"/>
<circle cx="454.21" cy="73" r="1.2" fill="#2A90A8"/>
<circle cx="460.57" cy="73" r="1.2" fill="#2A90A8"/>
<circle cx="466.94" cy="73" r="1.2" fill="#2A90A8"/>
<circle cx="473.31" cy="73" r="1.2" fill="#2A90A8"/>
<circle cx="479.67" cy="73" r="1.2" fill="#2A90A8"/>
<circle cx="486.04" cy="73" r="1.2" fill="#2A90A8"/>
<circle cx="492.4" cy="73" r="1.2" fill="#2A90A8"/>
<circle cx="498.77" cy="73" r="1.2" fill="#2A90A8"/>
<circle cx="505.14" cy="73" r="1.2" fill="#E8A050"/>
<circle cx="511.5" cy="73" r="1.2" fill="#E8A050"/>
<circle cx="517.87" cy="73" r="1.2" fill="#E8A050"/>
<circle cx="524.23" cy="73" r="1.2" fill="#E8A050"/>
<circle cx="530.6" cy="73" r="1.2" fill="#2A90A8"/>
<circle cx="562.43" cy="73" r="1.2" fill="#2A90A8"/>
<circle cx="218.67" cy="73" r="0.6" fill="#fff"/>
<text x="252.8" y="52.6" font-size="6.4" text-anchor="middle" font-weight="normal" fill="#1a1a1a" stroke="#1a1a1a" stroke-width="0.18">No designation</text>
<text x="313.1" y="56.2" font-size="6.4" text-anchor="middle" font-weight="normal" fill="#1a1a1a" stroke="#1a1a1a" stroke-width="0.18">Alpha</text>
<text x="346.5" y="53" font-size="6.4" text-anchor="middle" font-weight="normal" fill="#1a1a1a" stroke="#1a1a1a" stroke-width="0.18">Delta</text>
<text x="374.3" y="35.9" font-size="6.4" text-anchor="middle" font-weight="normal" fill="#1a1a1a" stroke="#1a1a1a" stroke-width="0.18">BA.1</text>
<text x="391.8" y="53" font-size="6.4" text-anchor="middle" font-weight="normal" fill="#1a1a1a" stroke="#1a1a1a" stroke-width="0.18">BA.2</text>
<text x="417.4" y="58.8" font-size="6.4" text-anchor="middle" font-weight="normal" fill="#1a1a1a" stroke="#1a1a1a" stroke-width="0.18">BA.5</text>
<text x="441.5" y="52" font-size="6.4" text-anchor="middle" font-weight="normal" fill="#1a1a1a" stroke="#1a1a1a" stroke-width="0.18">BQ.1</text>
<text x="485.5" y="52.6" font-size="6.4" text-anchor="middle" font-weight="normal" fill="#1a1a1a" stroke="#1a1a1a" stroke-width="0.18">XBB</text>
<text x="539.6" y="52.6" font-size="6.4" text-anchor="middle" font-weight="normal" fill="#1a1a1a" stroke="#1a1a1a" stroke-width="0.18">BA.2.86</text>
<rect x="244.13" y="80.45" width="334.57" height="2.4" fill="#F3E2C8" stroke="none" stroke-width="0" fill-opacity="0.6"/>
<polyline points="301.42,99.76 307.79,91.31 314.16,88.9 320.52,89.7 326.89,102.98 333.25,118.28 339.62,120.69" fill="none" stroke="#B8C4CC" stroke-width="0.75"/>
<circle cx="301.42" cy="99.76" r="1.25" fill="#B8C4CC"/>
<circle cx="307.79" cy="91.31" r="1.25" fill="#B8C4CC"/>
<circle cx="314.16" cy="88.9" r="1.25" fill="#B8C4CC"/>
<circle cx="320.52" cy="89.7" r="1.25" fill="#B8C4CC"/>
<circle cx="326.89" cy="102.98" r="1.25" fill="#B8C4CC"/>
<circle cx="333.25" cy="118.28" r="1.25" fill="#B8C4CC"/>
<circle cx="339.62" cy="120.69" r="1.25" fill="#B8C4CC"/>
<polyline points="218.67,119.89 225.03,119.08 231.4,114.25 237.76,108.62 244.13,108.22 250.5,104.59 256.86,102.58 263.23,101.78 269.59,108.62 275.96,112.24 282.33,113.45 288.69,110.63 295.06,107.41 301.42,99.76 307.79,93.73 314.16,91.31 320.52,92.52 326.89,102.98 333.25,118.28 339.62,120.69 345.99,121.9" fill="none" stroke="#AFC08A" stroke-width="0.75"/>
<circle cx="218.67" cy="119.89" r="1.25" fill="#AFC08A"/>
<circle cx="225.03" cy="119.08" r="1.25" fill="#AFC08A"/>
<circle cx="231.4" cy="114.25" r="1.25" fill="#AFC08A"/>
<circle cx="237.76" cy="108.62" r="1.25" fill="#AFC08A"/>
<circle cx="244.13" cy="108.22" r="1.25" fill="#AFC08A"/>
<circle cx="250.5" cy="104.59" r="1.25" fill="#AFC08A"/>
<circle cx="256.86" cy="102.58" r="1.25" fill="#AFC08A"/>
<circle cx="263.23" cy="101.78" r="1.25" fill="#AFC08A"/>
<circle cx="269.59" cy="108.62" r="1.25" fill="#AFC08A"/>
<circle cx="275.96" cy="112.24" r="1.25" fill="#AFC08A"/>
<circle cx="282.33" cy="113.45" r="1.25" fill="#AFC08A"/>
<circle cx="288.69" cy="110.63" r="1.25" fill="#AFC08A"/>
<circle cx="295.06" cy="107.41" r="1.25" fill="#AFC08A"/>
<circle cx="301.42" cy="99.76" r="1.25" fill="#AFC08A"/>
<circle cx="307.79" cy="93.73" r="1.25" fill="#AFC08A"/>
<circle cx="314.16" cy="91.31" r="1.25" fill="#AFC08A"/>
<circle cx="320.52" cy="92.52" r="1.25" fill="#AFC08A"/>
<circle cx="326.89" cy="102.98" r="1.25" fill="#AFC08A"/>
<circle cx="333.25" cy="118.28" r="1.25" fill="#AFC08A"/>
<circle cx="339.62" cy="120.69" r="1.25" fill="#AFC08A"/>
<circle cx="345.99" cy="121.9" r="1.25" fill="#AFC08A"/>
<polyline points="320.52,121.9 326.89,121.9 333.25,121.9 339.62,121.9 345.99,121.9 352.35,121.9 358.72,121.9 365.08,101.78 371.45,82.46 377.82,81.65 384.18,81.65 390.55,81.65 396.91,81.65 403.28,81.65 409.65,81.65 416.01,81.65 422.38,81.65 428.74,81.65 435.11,81.65 441.48,81.65 447.84,81.65 454.21,81.65 460.57,81.65 466.94,81.65 473.31,81.65 479.67,81.65 486.04,81.65 492.4,81.65 498.77,81.65 505.14,81.65 511.5,81.65 517.87,81.65 524.23,81.65 530.6,81.65 536.97,81.65 543.33,81.65 549.7,81.65 556.06,81.65 562.43,81.65" fill="none" stroke="#A0A0A0" stroke-width="0.75"/>
<circle cx="320.52" cy="121.9" r="1.25" fill="#A0A0A0"/>
<circle cx="326.89" cy="121.9" r="1.25" fill="#A0A0A0"/>
<circle cx="333.25" cy="121.9" r="1.25" fill="#A0A0A0"/>
<circle cx="339.62" cy="121.9" r="1.25" fill="#A0A0A0"/>
<circle cx="345.99" cy="121.9" r="1.25" fill="#A0A0A0"/>
<circle cx="352.35" cy="121.9" r="1.25" fill="#A0A0A0"/>
<circle cx="358.72" cy="121.9" r="1.25" fill="#A0A0A0"/>
<circle cx="365.08" cy="101.78" r="1.25" fill="#A0A0A0"/>
<circle cx="371.45" cy="82.46" r="1.25" fill="#A0A0A0"/>
<circle cx="377.82" cy="81.65" r="1.25" fill="#A0A0A0"/>
<circle cx="384.18" cy="81.65" r="1.25" fill="#A0A0A0"/>
<circle cx="390.55" cy="81.65" r="1.25" fill="#A0A0A0"/>
<circle cx="396.91" cy="81.65" r="1.25" fill="#A0A0A0"/>
<circle cx="403.28" cy="81.65" r="1.25" fill="#A0A0A0"/>
<circle cx="409.65" cy="81.65" r="1.25" fill="#A0A0A0"/>
<circle cx="416.01" cy="81.65" r="1.25" fill="#A0A0A0"/>
<circle cx="422.38" cy="81.65" r="1.25" fill="#A0A0A0"/>
<circle cx="428.74" cy="81.65" r="1.25" fill="#A0A0A0"/>
<circle cx="435.11" cy="81.65" r="1.25" fill="#A0A0A0"/>
<circle cx="441.48" cy="81.65" r="1.25" fill="#A0A0A0"/>
<circle cx="447.84" cy="81.65" r="1.25" fill="#A0A0A0"/>
<circle cx="454.21" cy="81.65" r="1.25" fill="#A0A0A0"/>
<circle cx="460.57" cy="81.65" r="1.25" fill="#A0A0A0"/>
<circle cx="466.94" cy="81.65" r="1.25" fill="#A0A0A0"/>
<circle cx="473.31" cy="81.65" r="1.25" fill="#A0A0A0"/>
<circle cx="479.67" cy="81.65" r="1.25" fill="#A0A0A0"/>
<circle cx="486.04" cy="81.65" r="1.25" fill="#A0A0A0"/>
<circle cx="492.4" cy="81.65" r="1.25" fill="#A0A0A0"/>
<circle cx="498.77" cy="81.65" r="1.25" fill="#A0A0A0"/>
<circle cx="505.14" cy="81.65" r="1.25" fill="#A0A0A0"/>
<circle cx="511.5" cy="81.65" r="1.25" fill="#A0A0A0"/>
<circle cx="517.87" cy="81.65" r="1.25" fill="#A0A0A0"/>
<circle cx="524.23" cy="81.65" r="1.25" fill="#A0A0A0"/>
<circle cx="530.6" cy="81.65" r="1.25" fill="#A0A0A0"/>
<circle cx="536.97" cy="81.65" r="1.25" fill="#A0A0A0"/>
<circle cx="543.33" cy="81.65" r="1.25" fill="#A0A0A0"/>
<circle cx="549.7" cy="81.65" r="1.25" fill="#A0A0A0"/>
<circle cx="556.06" cy="81.65" r="1.25" fill="#A0A0A0"/>
<circle cx="562.43" cy="81.65" r="1.25" fill="#A0A0A0"/>
<polyline points="218.67,121.9 225.03,121.9 231.4,121.9 237.76,121.9 244.13,121.9 250.5,121.9 256.86,121.9 263.23,121.9 269.59,121.9 275.96,121.9 282.33,121.9 288.69,121.9 295.06,121.9 301.42,121.9 307.79,121.9 314.16,120.29 320.52,116.27 326.89,98.96 333.25,85.68 339.62,82.46 345.99,81.65 352.35,81.65 358.72,81.65 365.08,101.78 371.45,119.89 377.82,121.9 384.18,121.9 390.55,121.9 396.91,121.9 403.28,121.9 409.65,121.9 416.01,121.9 422.38,121.9 428.74,121.9 435.11,121.9 441.48,121.9 447.84,121.9 454.21,121.9 460.57,121.9 466.94,121.9 473.31,121.9 479.67,121.9 486.04,121.9 492.4,121.9 498.77,121.9 505.14,119.89 511.5,114.66 517.87,99.76 524.23,88.09 530.6,83.66 536.97,82.46 543.33,82.46 549.7,82.86 556.06,82.86 562.43,81.65" fill="none" stroke="#8A8AE6" stroke-width="0.75"/>
<circle cx="218.67" cy="121.9" r="1.25" fill="#8A8AE6"/>
<circle cx="225.03" cy="121.9" r="1.25" fill="#8A8AE6"/>
<circle cx="231.4" cy="121.9" r="1.25" fill="#8A8AE6"/>
<circle cx="237.76" cy="121.9" r="1.25" fill="#8A8AE6"/>
<circle cx="244.13" cy="121.9" r="1.25" fill="#8A8AE6"/>
<circle cx="250.5" cy="121.9" r="1.25" fill="#8A8AE6"/>
<circle cx="256.86" cy="121.9" r="1.25" fill="#8A8AE6"/>
<circle cx="263.23" cy="121.9" r="1.25" fill="#8A8AE6"/>
<circle cx="269.59" cy="121.9" r="1.25" fill="#8A8AE6"/>
<circle cx="275.96" cy="121.9" r="1.25" fill="#8A8AE6"/>
<circle cx="282.33" cy="121.9" r="1.25" fill="#8A8AE6"/>
<circle cx="288.69" cy="121.9" r="1.25" fill="#8A8AE6"/>
<circle cx="295.06" cy="121.9" r="1.25" fill="#8A8AE6"/>
<circle cx="301.42" cy="121.9" r="1.25" fill="#8A8AE6"/>
<circle cx="307.79" cy="121.9" r="1.25" fill="#8A8AE6"/>
<circle cx="314.16" cy="120.29" r="1.25" fill="#8A8AE6"/>
<circle cx="320.52" cy="116.27" r="1.25" fill="#8A8AE6"/>
<circle cx="326.89" cy="98.96" r="1.25" fill="#8A8AE6"/>
<circle cx="333.25" cy="85.68" r="1.25" fill="#8A8AE6"/>
<circle cx="339.62" cy="82.46" r="1.25" fill="#8A8AE6"/>
<circle cx="345.99" cy="81.65" r="1.25" fill="#8A8AE6"/>
<circle cx="352.35" cy="81.65" r="1.25" fill="#8A8AE6"/>
<circle cx="358.72" cy="81.65" r="1.25" fill="#8A8AE6"/>
<circle cx="365.08" cy="101.78" r="1.25" fill="#8A8AE6"/>
<circle cx="371.45" cy="119.89" r="1.25" fill="#8A8AE6"/>
<circle cx="377.82" cy="121.9" r="1.25" fill="#8A8AE6"/>
<circle cx="384.18" cy="121.9" r="1.25" fill="#8A8AE6"/>
<circle cx="390.55" cy="121.9" r="1.25" fill="#8A8AE6"/>
<circle cx="396.91" cy="121.9" r="1.25" fill="#8A8AE6"/>
<circle cx="403.28" cy="121.9" r="1.25" fill="#8A8AE6"/>
<circle cx="409.65" cy="121.9" r="1.25" fill="#8A8AE6"/>
<circle cx="416.01" cy="121.9" r="1.25" fill="#8A8AE6"/>
<circle cx="422.38" cy="121.9" r="1.25" fill="#8A8AE6"/>
<circle cx="428.74" cy="121.9" r="1.25" fill="#8A8AE6"/>
<circle cx="435.11" cy="121.9" r="1.25" fill="#8A8AE6"/>
<circle cx="441.48" cy="121.9" r="1.25" fill="#8A8AE6"/>
<circle cx="447.84" cy="121.9" r="1.25" fill="#8A8AE6"/>
<circle cx="454.21" cy="121.9" r="1.25" fill="#8A8AE6"/>
<circle cx="460.57" cy="121.9" r="1.25" fill="#8A8AE6"/>
<circle cx="466.94" cy="121.9" r="1.25" fill="#8A8AE6"/>
<circle cx="473.31" cy="121.9" r="1.25" fill="#8A8AE6"/>
<circle cx="479.67" cy="121.9" r="1.25" fill="#8A8AE6"/>
<circle cx="486.04" cy="121.9" r="1.25" fill="#8A8AE6"/>
<circle cx="492.4" cy="121.9" r="1.25" fill="#8A8AE6"/>
<circle cx="498.77" cy="121.9" r="1.25" fill="#8A8AE6"/>
<circle cx="505.14" cy="119.89" r="1.25" fill="#8A8AE6"/>
<circle cx="511.5" cy="114.66" r="1.25" fill="#8A8AE6"/>
<circle cx="517.87" cy="99.76" r="1.25" fill="#8A8AE6"/>
<circle cx="524.23" cy="88.09" r="1.25" fill="#8A8AE6"/>
<circle cx="530.6" cy="83.66" r="1.25" fill="#8A8AE6"/>
<circle cx="536.97" cy="82.46" r="1.25" fill="#8A8AE6"/>
<circle cx="543.33" cy="82.46" r="1.25" fill="#8A8AE6"/>
<circle cx="549.7" cy="82.86" r="1.25" fill="#8A8AE6"/>
<circle cx="556.06" cy="82.86" r="1.25" fill="#8A8AE6"/>
<circle cx="562.43" cy="81.65" r="1.25" fill="#8A8AE6"/>
<polyline points="218.67,121.9 225.03,121.9 231.4,121.9 237.76,121.9 244.13,121.9 250.5,121.9 256.86,121.9 263.23,121.9 269.59,121.9 275.96,121.9 282.33,121.9 288.69,121.9 295.06,121.9 301.42,121.9 307.79,121.9 314.16,121.9 320.52,118.68 326.89,109.42 333.25,101.37 339.62,97.35 345.99,97.75 352.35,94.13 358.72,88.9 365.08,85.68 371.45,83.26 377.82,82.46 384.18,81.65 390.55,81.65 396.91,81.65 403.28,81.65 409.65,81.65 416.01,81.65 422.38,81.65 428.74,81.65 435.11,81.65 441.48,81.65 447.84,81.65 454.21,81.65 460.57,81.65 466.94,81.65 473.31,81.65 479.67,81.65 486.04,81.65 492.4,81.65 498.77,81.65 505.14,81.65 511.5,81.65 517.87,81.65 524.23,81.65 530.6,81.65 536.97,81.65 543.33,81.65 549.7,81.65 556.06,81.65 562.43,81.65" fill="none" stroke="#A83CE6" stroke-width="0.75"/>
<circle cx="218.67" cy="121.9" r="1.25" fill="#A83CE6"/>
<circle cx="225.03" cy="121.9" r="1.25" fill="#A83CE6"/>
<circle cx="231.4" cy="121.9" r="1.25" fill="#A83CE6"/>
<circle cx="237.76" cy="121.9" r="1.25" fill="#A83CE6"/>
<circle cx="244.13" cy="121.9" r="1.25" fill="#A83CE6"/>
<circle cx="250.5" cy="121.9" r="1.25" fill="#A83CE6"/>
<circle cx="256.86" cy="121.9" r="1.25" fill="#A83CE6"/>
<circle cx="263.23" cy="121.9" r="1.25" fill="#A83CE6"/>
<circle cx="269.59" cy="121.9" r="1.25" fill="#A83CE6"/>
<circle cx="275.96" cy="121.9" r="1.25" fill="#A83CE6"/>
<circle cx="282.33" cy="121.9" r="1.25" fill="#A83CE6"/>
<circle cx="288.69" cy="121.9" r="1.25" fill="#A83CE6"/>
<circle cx="295.06" cy="121.9" r="1.25" fill="#A83CE6"/>
<circle cx="301.42" cy="121.9" r="1.25" fill="#A83CE6"/>
<circle cx="307.79" cy="121.9" r="1.25" fill="#A83CE6"/>
<circle cx="314.16" cy="121.9" r="1.25" fill="#A83CE6"/>
<circle cx="320.52" cy="118.68" r="1.25" fill="#A83CE6"/>
<circle cx="326.89" cy="109.42" r="1.25" fill="#A83CE6"/>
<circle cx="333.25" cy="101.37" r="1.25" fill="#A83CE6"/>
<circle cx="339.62" cy="97.35" r="1.25" fill="#A83CE6"/>
<circle cx="345.99" cy="97.75" r="1.25" fill="#A83CE6"/>
<circle cx="352.35" cy="94.13" r="1.25" fill="#A83CE6"/>
<circle cx="358.72" cy="88.9" r="1.25" fill="#A83CE6"/>
<circle cx="365.08" cy="85.68" r="1.25" fill="#A83CE6"/>
<circle cx="371.45" cy="83.26" r="1.25" fill="#A83CE6"/>
<circle cx="377.82" cy="82.46" r="1.25" fill="#A83CE6"/>
<circle cx="384.18" cy="81.65" r="1.25" fill="#A83CE6"/>
<circle cx="390.55" cy="81.65" r="1.25" fill="#A83CE6"/>
<circle cx="396.91" cy="81.65" r="1.25" fill="#A83CE6"/>
<circle cx="403.28" cy="81.65" r="1.25" fill="#A83CE6"/>
<circle cx="409.65" cy="81.65" r="1.25" fill="#A83CE6"/>
<circle cx="416.01" cy="81.65" r="1.25" fill="#A83CE6"/>
<circle cx="422.38" cy="81.65" r="1.25" fill="#A83CE6"/>
<circle cx="428.74" cy="81.65" r="1.25" fill="#A83CE6"/>
<circle cx="435.11" cy="81.65" r="1.25" fill="#A83CE6"/>
<circle cx="441.48" cy="81.65" r="1.25" fill="#A83CE6"/>
<circle cx="447.84" cy="81.65" r="1.25" fill="#A83CE6"/>
<circle cx="454.21" cy="81.65" r="1.25" fill="#A83CE6"/>
<circle cx="460.57" cy="81.65" r="1.25" fill="#A83CE6"/>
<circle cx="466.94" cy="81.65" r="1.25" fill="#A83CE6"/>
<circle cx="473.31" cy="81.65" r="1.25" fill="#A83CE6"/>
<circle cx="479.67" cy="81.65" r="1.25" fill="#A83CE6"/>
<circle cx="486.04" cy="81.65" r="1.25" fill="#A83CE6"/>
<circle cx="492.4" cy="81.65" r="1.25" fill="#A83CE6"/>
<circle cx="498.77" cy="81.65" r="1.25" fill="#A83CE6"/>
<circle cx="505.14" cy="81.65" r="1.25" fill="#A83CE6"/>
<circle cx="511.5" cy="81.65" r="1.25" fill="#A83CE6"/>
<circle cx="517.87" cy="81.65" r="1.25" fill="#A83CE6"/>
<circle cx="524.23" cy="81.65" r="1.25" fill="#A83CE6"/>
<circle cx="530.6" cy="81.65" r="1.25" fill="#A83CE6"/>
<circle cx="536.97" cy="81.65" r="1.25" fill="#A83CE6"/>
<circle cx="543.33" cy="81.65" r="1.25" fill="#A83CE6"/>
<circle cx="549.7" cy="81.65" r="1.25" fill="#A83CE6"/>
<circle cx="556.06" cy="81.65" r="1.25" fill="#A83CE6"/>
<circle cx="562.43" cy="81.65" r="1.25" fill="#A83CE6"/>
<polyline points="218.67,121.9 225.03,121.9 231.4,121.9 237.76,121.9 244.13,121.9 250.5,121.9 256.86,121.9 263.23,121.9 269.59,121.9 275.96,121.9 282.33,121.9 288.69,121.9 295.06,121.9 301.42,121.9 307.79,121.9 314.16,121.9 320.52,121.9 326.89,121.9 333.25,121.9 339.62,121.9 345.99,121.9 352.35,121.9 358.72,121.9 365.08,120.69 371.45,118.68 377.82,109.42 384.18,90.1 390.55,84.06 396.91,84.87 403.28,104.19 409.65,117.47 416.01,120.29 422.38,120.29 428.74,119.08 435.11,116.27 441.48,113.45 447.84,107.01 454.21,94.53 460.57,86.88 466.94,83.66 473.31,82.46 479.67,81.65 486.04,81.65 492.4,81.65 498.77,81.65 505.14,82.86 511.5,88.9 517.87,103.79 524.23,115.46 530.6,119.89 536.97,121.09 543.33,121.5 549.7,121.9 556.06,121.9" fill="none" stroke="#E0508C" stroke-width="0.75"/>
<circle cx="218.67" cy="121.9" r="1.25" fill="#E0508C"/>
<circle cx="225.03" cy="121.9" r="1.25" fill="#E0508C"/>
<circle cx="231.4" cy="121.9" r="1.25" fill="#E0508C"/>
<circle cx="237.76" cy="121.9" r="1.25" fill="#E0508C"/>
<circle cx="244.13" cy="121.9" r="1.25" fill="#E0508C"/>
<circle cx="250.5" cy="121.9" r="1.25" fill="#E0508C"/>
<circle cx="256.86" cy="121.9" r="1.25" fill="#E0508C"/>
<circle cx="263.23" cy="121.9" r="1.25" fill="#E0508C"/>
<circle cx="269.59" cy="121.9" r="1.25" fill="#E0508C"/>
<circle cx="275.96" cy="121.9" r="1.25" fill="#E0508C"/>
<circle cx="282.33" cy="121.9" r="1.25" fill="#E0508C"/>
<circle cx="288.69" cy="121.9" r="1.25" fill="#E0508C"/>
<circle cx="295.06" cy="121.9" r="1.25" fill="#E0508C"/>
<circle cx="301.42" cy="121.9" r="1.25" fill="#E0508C"/>
<circle cx="307.79" cy="121.9" r="1.25" fill="#E0508C"/>
<circle cx="314.16" cy="121.9" r="1.25" fill="#E0508C"/>
<circle cx="320.52" cy="121.9" r="1.25" fill="#E0508C"/>
<circle cx="326.89" cy="121.9" r="1.25" fill="#E0508C"/>
<circle cx="333.25" cy="121.9" r="1.25" fill="#E0508C"/>
<circle cx="339.62" cy="121.9" r="1.25" fill="#E0508C"/>
<circle cx="345.99" cy="121.9" r="1.25" fill="#E0508C"/>
<circle cx="352.35" cy="121.9" r="1.25" fill="#E0508C"/>
<circle cx="358.72" cy="121.9" r="1.25" fill="#E0508C"/>
<circle cx="365.08" cy="120.69" r="1.25" fill="#E0508C"/>
<circle cx="371.45" cy="118.68" r="1.25" fill="#E0508C"/>
<circle cx="377.82" cy="109.42" r="1.25" fill="#E0508C"/>
<circle cx="384.18" cy="90.1" r="1.25" fill="#E0508C"/>
<circle cx="390.55" cy="84.06" r="1.25" fill="#E0508C"/>
<circle cx="396.91" cy="84.87" r="1.25" fill="#E0508C"/>
<circle cx="403.28" cy="104.19" r="1.25" fill="#E0508C"/>
<circle cx="409.65" cy="117.47" r="1.25" fill="#E0508C"/>
<circle cx="416.01" cy="120.29" r="1.25" fill="#E0508C"/>
<circle cx="422.38" cy="120.29" r="1.25" fill="#E0508C"/>
<circle cx="428.74" cy="119.08" r="1.25" fill="#E0508C"/>
<circle cx="435.11" cy="116.27" r="1.25" fill="#E0508C"/>
<circle cx="441.48" cy="113.45" r="1.25" fill="#E0508C"/>
<circle cx="447.84" cy="107.01" r="1.25" fill="#E0508C"/>
<circle cx="454.21" cy="94.53" r="1.25" fill="#E0508C"/>
<circle cx="460.57" cy="86.88" r="1.25" fill="#E0508C"/>
<circle cx="466.94" cy="83.66" r="1.25" fill="#E0508C"/>
<circle cx="473.31" cy="82.46" r="1.25" fill="#E0508C"/>
<circle cx="479.67" cy="81.65" r="1.25" fill="#E0508C"/>
<circle cx="486.04" cy="81.65" r="1.25" fill="#E0508C"/>
<circle cx="492.4" cy="81.65" r="1.25" fill="#E0508C"/>
<circle cx="498.77" cy="81.65" r="1.25" fill="#E0508C"/>
<circle cx="505.14" cy="82.86" r="1.25" fill="#E0508C"/>
<circle cx="511.5" cy="88.9" r="1.25" fill="#E0508C"/>
<circle cx="517.87" cy="103.79" r="1.25" fill="#E0508C"/>
<circle cx="524.23" cy="115.46" r="1.25" fill="#E0508C"/>
<circle cx="530.6" cy="119.89" r="1.25" fill="#E0508C"/>
<circle cx="536.97" cy="121.09" r="1.25" fill="#E0508C"/>
<circle cx="543.33" cy="121.5" r="1.25" fill="#E0508C"/>
<circle cx="549.7" cy="121.9" r="1.25" fill="#E0508C"/>
<circle cx="556.06" cy="121.9" r="1.25" fill="#E0508C"/>
<polyline points="549.7,81.65 556.06,83.66 562.43,86.88" fill="none" stroke="#7FBF5F" stroke-width="0.75"/>
<circle cx="549.7" cy="81.65" r="1.25" fill="#7FBF5F"/>
<circle cx="556.06" cy="83.66" r="1.25" fill="#7FBF5F"/>
<circle cx="562.43" cy="86.88" r="1.25" fill="#7FBF5F"/>
<polyline points="218.67,117.47 225.03,113.05 231.4,92.52 237.76,86.08 244.13,83.26 250.5,81.65 256.86,81.65 263.23,81.65 269.59,81.65 275.96,81.65 282.33,81.65 288.69,81.65 295.06,88.49 301.42,81.65 307.79,81.65 314.16,81.65 320.52,81.65 326.89,81.65 333.25,81.65 339.62,81.65 345.99,81.65 352.35,81.65 358.72,81.65 365.08,81.65 371.45,81.65 377.82,81.65 384.18,81.65 390.55,81.65 396.91,81.65 403.28,81.65 409.65,81.65 416.01,81.65 422.38,81.65 428.74,81.65 435.11,81.65 441.48,81.65 447.84,81.65 454.21,81.65 460.57,81.65 466.94,81.65 473.31,81.65 479.67,81.65 486.04,81.65 492.4,81.65 498.77,81.65 505.14,81.65 511.5,81.65 517.87,81.65 524.23,81.65 530.6,81.65 536.97,81.65 543.33,81.65 549.7,81.65 556.06,81.65 562.43,81.65" fill="none" stroke="#E89E50" stroke-width="0.75"/>
<circle cx="218.67" cy="117.47" r="1.25" fill="#E89E50"/>
<circle cx="225.03" cy="113.05" r="1.25" fill="#E89E50"/>
<circle cx="231.4" cy="92.52" r="1.25" fill="#E89E50"/>
<circle cx="237.76" cy="86.08" r="1.25" fill="#E89E50"/>
<circle cx="244.13" cy="83.26" r="1.25" fill="#E89E50"/>
<circle cx="250.5" cy="81.65" r="1.25" fill="#E89E50"/>
<circle cx="256.86" cy="81.65" r="1.25" fill="#E89E50"/>
<circle cx="263.23" cy="81.65" r="1.25" fill="#E89E50"/>
<circle cx="269.59" cy="81.65" r="1.25" fill="#E89E50"/>
<circle cx="275.96" cy="81.65" r="1.25" fill="#E89E50"/>
<circle cx="282.33" cy="81.65" r="1.25" fill="#E89E50"/>
<circle cx="288.69" cy="81.65" r="1.25" fill="#E89E50"/>
<circle cx="295.06" cy="88.49" r="1.25" fill="#E89E50"/>
<circle cx="301.42" cy="81.65" r="1.25" fill="#E89E50"/>
<circle cx="307.79" cy="81.65" r="1.25" fill="#E89E50"/>
<circle cx="314.16" cy="81.65" r="1.25" fill="#E89E50"/>
<circle cx="320.52" cy="81.65" r="1.25" fill="#E89E50"/>
<circle cx="326.89" cy="81.65" r="1.25" fill="#E89E50"/>
<circle cx="333.25" cy="81.65" r="1.25" fill="#E89E50"/>
<circle cx="339.62" cy="81.65" r="1.25" fill="#E89E50"/>
<circle cx="345.99" cy="81.65" r="1.25" fill="#E89E50"/>
<circle cx="352.35" cy="81.65" r="1.25" fill="#E89E50"/>
<circle cx="358.72" cy="81.65" r="1.25" fill="#E89E50"/>
<circle cx="365.08" cy="81.65" r="1.25" fill="#E89E50"/>
<circle cx="371.45" cy="81.65" r="1.25" fill="#E89E50"/>
<circle cx="377.82" cy="81.65" r="1.25" fill="#E89E50"/>
<circle cx="384.18" cy="81.65" r="1.25" fill="#E89E50"/>
<circle cx="390.55" cy="81.65" r="1.25" fill="#E89E50"/>
<circle cx="396.91" cy="81.65" r="1.25" fill="#E89E50"/>
<circle cx="403.28" cy="81.65" r="1.25" fill="#E89E50"/>
<circle cx="409.65" cy="81.65" r="1.25" fill="#E89E50"/>
<circle cx="416.01" cy="81.65" r="1.25" fill="#E89E50"/>
<circle cx="422.38" cy="81.65" r="1.25" fill="#E89E50"/>
<circle cx="428.74" cy="81.65" r="1.25" fill="#E89E50"/>
<circle cx="435.11" cy="81.65" r="1.25" fill="#E89E50"/>
<circle cx="441.48" cy="81.65" r="1.25" fill="#E89E50"/>
<circle cx="447.84" cy="81.65" r="1.25" fill="#E89E50"/>
<circle cx="454.21" cy="81.65" r="1.25" fill="#E89E50"/>
<circle cx="460.57" cy="81.65" r="1.25" fill="#E89E50"/>
<circle cx="466.94" cy="81.65" r="1.25" fill="#E89E50"/>
<circle cx="473.31" cy="81.65" r="1.25" fill="#E89E50"/>
<circle cx="479.67" cy="81.65" r="1.25" fill="#E89E50"/>
<circle cx="486.04" cy="81.65" r="1.25" fill="#E89E50"/>
<circle cx="492.4" cy="81.65" r="1.25" fill="#E89E50"/>
<circle cx="498.77" cy="81.65" r="1.25" fill="#E89E50"/>
<circle cx="505.14" cy="81.65" r="1.25" fill="#E89E50"/>
<circle cx="511.5" cy="81.65" r="1.25" fill="#E89E50"/>
<circle cx="517.87" cy="81.65" r="1.25" fill="#E89E50"/>
<circle cx="524.23" cy="81.65" r="1.25" fill="#E89E50"/>
<circle cx="530.6" cy="81.65" r="1.25" fill="#E89E50"/>
<circle cx="536.97" cy="81.65" r="1.25" fill="#E89E50"/>
<circle cx="543.33" cy="81.65" r="1.25" fill="#E89E50"/>
<circle cx="549.7" cy="81.65" r="1.25" fill="#E89E50"/>
<circle cx="556.06" cy="81.65" r="1.25" fill="#E89E50"/>
<circle cx="562.43" cy="81.65" r="1.25" fill="#E89E50"/>
<circle cx="479.67" cy="81.65" r="1.25" fill="#E0508C"/>
<circle cx="486.04" cy="81.65" r="1.25" fill="#E0508C"/>
<circle cx="492.4" cy="81.65" r="1.25" fill="#E0508C"/>
<circle cx="498.77" cy="81.65" r="1.25" fill="#E0508C"/>
<circle cx="505.14" cy="82.86" r="1.25" fill="#E0508C"/>
<polyline points="524.23,88.09 530.6,83.66 536.97,82.46 543.33,82.46 549.7,82.86 556.06,82.86 562.43,81.65" fill="none" stroke="#8A8AE6" stroke-width="0.75"/>
<circle cx="530.6" cy="83.66" r="1.25" fill="#8A8AE6"/>
<circle cx="536.97" cy="82.46" r="1.25" fill="#8A8AE6"/>
<circle cx="543.33" cy="82.46" r="1.25" fill="#8A8AE6"/>
<circle cx="549.7" cy="82.86" r="1.25" fill="#8A8AE6"/>
<circle cx="556.06" cy="82.86" r="1.25" fill="#8A8AE6"/>
<circle cx="562.43" cy="81.65" r="1.25" fill="#8A8AE6"/>
<line x1="218.67" y1="121.9" x2="524.23" y2="121.9" stroke="#C8C8F0" stroke-width="2.2" stroke-opacity="0.7"/>
<circle cx="218.67" cy="121.9" r="1.25" fill="#8A8AE6"/>
<circle cx="225.03" cy="121.9" r="1.25" fill="#8A8AE6"/>
<circle cx="231.4" cy="121.9" r="1.25" fill="#B070E0"/>
<circle cx="237.76" cy="121.9" r="1.25" fill="#8A8AE6"/>
<circle cx="244.13" cy="121.9" r="1.25" fill="#8A8AE6"/>
<circle cx="250.5" cy="121.9" r="1.25" fill="#B070E0"/>
<circle cx="256.86" cy="121.9" r="1.25" fill="#8A8AE6"/>
<circle cx="263.23" cy="121.9" r="1.25" fill="#8A8AE6"/>
<circle cx="269.59" cy="121.9" r="1.25" fill="#B070E0"/>
<circle cx="275.96" cy="121.9" r="1.25" fill="#8A8AE6"/>
<circle cx="282.33" cy="121.9" r="1.25" fill="#8A8AE6"/>
<circle cx="288.69" cy="121.9" r="1.25" fill="#B070E0"/>
<circle cx="295.06" cy="121.9" r="1.25" fill="#8A8AE6"/>
<circle cx="301.42" cy="121.9" r="1.25" fill="#8A8AE6"/>
<circle cx="307.79" cy="121.9" r="1.25" fill="#B070E0"/>
<circle cx="314.16" cy="121.9" r="1.25" fill="#8A8AE6"/>
<circle cx="320.52" cy="121.9" r="1.25" fill="#8A8AE6"/>
<circle cx="326.89" cy="121.9" r="1.25" fill="#B070E0"/>
<circle cx="333.25" cy="121.9" r="1.25" fill="#8A8AE6"/>
<circle cx="339.62" cy="121.9" r="1.25" fill="#8A8AE6"/>
<circle cx="365.08" cy="121.9" r="1.25" fill="#B070E0"/>
<circle cx="371.45" cy="121.9" r="1.25" fill="#8A8AE6"/>
<circle cx="377.82" cy="121.9" r="1.25" fill="#8A8AE6"/>
<circle cx="384.18" cy="121.9" r="1.25" fill="#B070E0"/>
<circle cx="390.55" cy="121.9" r="1.25" fill="#8A8AE6"/>
<circle cx="396.91" cy="121.9" r="1.25" fill="#8A8AE6"/>
<circle cx="403.28" cy="121.9" r="1.25" fill="#B070E0"/>
<circle cx="409.65" cy="121.9" r="1.25" fill="#8A8AE6"/>
<circle cx="416.01" cy="121.9" r="1.25" fill="#8A8AE6"/>
<circle cx="422.38" cy="121.9" r="1.25" fill="#B070E0"/>
<circle cx="428.74" cy="121.9" r="1.25" fill="#8A8AE6"/>
<circle cx="435.11" cy="121.9" r="1.25" fill="#8A8AE6"/>
<circle cx="441.48" cy="121.9" r="1.25" fill="#B070E0"/>
<circle cx="447.84" cy="121.9" r="1.25" fill="#8A8AE6"/>
<circle cx="454.21" cy="121.9" r="1.25" fill="#8A8AE6"/>
<circle cx="460.57" cy="121.9" r="1.25" fill="#B070E0"/>
<circle cx="466.94" cy="121.9" r="1.25" fill="#8A8AE6"/>
<circle cx="473.31" cy="121.9" r="1.25" fill="#8A8AE6"/>
<circle cx="479.67" cy="121.9" r="1.25" fill="#B070E0"/>
<circle cx="486.04" cy="121.9" r="1.25" fill="#8A8AE6"/>
<circle cx="492.4" cy="121.9" r="1.25" fill="#8A8AE6"/>
<circle cx="498.77" cy="121.9" r="1.25" fill="#B070E0"/>
<circle cx="530.6" cy="119.89" r="1.25" fill="#E0508C"/>
<circle cx="536.97" cy="121.09" r="1.25" fill="#E0508C"/>
<circle cx="543.33" cy="121.5" r="1.25" fill="#E0508C"/>
<circle cx="549.7" cy="121.9" r="1.25" fill="#E0508C"/>
<circle cx="556.06" cy="121.9" r="1.25" fill="#E0508C"/>
<text x="197" y="84.6" font-size="5.45" text-anchor="start" font-weight="normal" fill="#1a1a1a" stroke="#1a1a1a" stroke-width="0.18">NSP12_P323L</text>
<text x="197" y="90.7" font-size="5.5" text-anchor="start" font-weight="normal" fill="#1a1a1a" stroke="#1a1a1a" stroke-width="0.18">Spike_D614G</text>
<text x="247.9" y="92" font-size="6" text-anchor="start" font-weight="normal" fill="#1a1a1a" stroke="#1a1a1a" stroke-width="0.18">N_G204R</text>
<text x="247.9" y="98.1" font-size="6" text-anchor="start" font-weight="normal" fill="#1a1a1a" stroke="#1a1a1a" stroke-width="0.18">N_R203K</text>
<text x="332.2" y="111.4" font-size="5.95" text-anchor="start" font-weight="normal" fill="#1a1a1a" stroke="#1a1a1a" stroke-width="0.18">Spike_G142D</text>
<text x="410.4" y="100.3" font-size="5.9" text-anchor="start" font-weight="normal" fill="#1a1a1a" stroke="#1a1a1a" stroke-width="0.18">NSP4_L438F</text>
<text x="462" y="111.8" font-size="6" text-anchor="start" font-weight="normal" fill="#1a1a1a" stroke="#1a1a1a" stroke-width="0.18">Spike_P681R</text>
<line x1="345.8" y1="97.7" x2="348.8" y2="106" stroke="#333" stroke-width="0.6"/>
<line x1="402.4" y1="98.6" x2="409.6" y2="98.6" stroke="#333" stroke-width="0.6"/>
<line x1="498" y1="111" x2="505.4" y2="116.6" stroke="#333" stroke-width="0.6"/>
<line x1="301.5" y1="30.4" x2="301.5" y2="75.5" stroke="#1a1a1a" stroke-width="1" stroke-dasharray="1.8,2.5"/>
<line x1="301.5" y1="79.1" x2="301.5" y2="123.8" stroke="#1a1a1a" stroke-width="1" stroke-dasharray="1.8,2.5"/>
<line x1="326.7" y1="30.4" x2="326.7" y2="75.5" stroke="#1a1a1a" stroke-width="1" stroke-dasharray="1.8,2.5"/>
<line x1="326.7" y1="79.1" x2="326.7" y2="123.8" stroke="#1a1a1a" stroke-width="1" stroke-dasharray="1.8,2.5"/>
<line x1="365.2" y1="30.4" x2="365.2" y2="75.5" stroke="#1a1a1a" stroke-width="1" stroke-dasharray="1.8,2.5"/>
<line x1="365.2" y1="79.1" x2="365.2" y2="123.8" stroke="#1a1a1a" stroke-width="1" stroke-dasharray="1.8,2.5"/>
<line x1="403" y1="30.4" x2="403" y2="75.5" stroke="#1a1a1a" stroke-width="1" stroke-dasharray="1.8,2.5"/>
<line x1="403" y1="79.1" x2="403" y2="123.8" stroke="#1a1a1a" stroke-width="1" stroke-dasharray="1.8,2.5"/>
<line x1="454.3" y1="30.4" x2="454.3" y2="75.5" stroke="#1a1a1a" stroke-width="1" stroke-dasharray="1.8,2.5"/>
<line x1="454.3" y1="79.1" x2="454.3" y2="123.8" stroke="#1a1a1a" stroke-width="1" stroke-dasharray="1.8,2.5"/>
<line x1="517.5" y1="30.4" x2="517.5" y2="75.5" stroke="#1a1a1a" stroke-width="1" stroke-dasharray="1.8,2.5"/>
<line x1="517.5" y1="79.1" x2="517.5" y2="123.8" stroke="#1a1a1a" stroke-width="1" stroke-dasharray="1.8,2.5"/>
<rect x="194.6" y="29.4" width="385.1" height="46.1" fill="none" stroke="#333" stroke-width="1"/>
<rect x="194.6" y="78.1" width="385.1" height="45.7" fill="none" stroke="#333" stroke-width="1"/>
<line x1="192.6" y1="73" x2="194.6" y2="73" stroke="#333" stroke-width="0.8"/>
<text x="192" y="75.2" font-size="6" text-anchor="end" font-weight="normal" fill="#4D4D4D" stroke="#4D4D4D" stroke-width="0.18">0.00</text>
<line x1="192.6" y1="121.9" x2="194.6" y2="121.9" stroke="#333" stroke-width="0.8"/>
<text x="192" y="124.1" font-size="6" text-anchor="end" font-weight="normal" fill="#4D4D4D" stroke="#4D4D4D" stroke-width="0.18">0.00</text>
<line x1="192.6" y1="62.8" x2="194.6" y2="62.8" stroke="#333" stroke-width="0.8"/>
<text x="192" y="65" font-size="6" text-anchor="end" font-weight="normal" fill="#4D4D4D" stroke="#4D4D4D" stroke-width="0.18">0.25</text>
<line x1="192.6" y1="111.84" x2="194.6" y2="111.84" stroke="#333" stroke-width="0.8"/>
<text x="192" y="114.04" font-size="6" text-anchor="end" font-weight="normal" fill="#4D4D4D" stroke="#4D4D4D" stroke-width="0.18">0.25</text>
<line x1="192.6" y1="52.6" x2="194.6" y2="52.6" stroke="#333" stroke-width="0.8"/>
<text x="192" y="54.8" font-size="6" text-anchor="end" font-weight="normal" fill="#4D4D4D" stroke="#4D4D4D" stroke-width="0.18">0.50</text>
<line x1="192.6" y1="101.78" x2="194.6" y2="101.78" stroke="#333" stroke-width="0.8"/>
<text x="192" y="103.98" font-size="6" text-anchor="end" font-weight="normal" fill="#4D4D4D" stroke="#4D4D4D" stroke-width="0.18">0.50</text>
<line x1="192.6" y1="42.4" x2="194.6" y2="42.4" stroke="#333" stroke-width="0.8"/>
<text x="192" y="44.6" font-size="6" text-anchor="end" font-weight="normal" fill="#4D4D4D" stroke="#4D4D4D" stroke-width="0.18">0.75</text>
<line x1="192.6" y1="91.71" x2="194.6" y2="91.71" stroke="#333" stroke-width="0.8"/>
<text x="192" y="93.91" font-size="6" text-anchor="end" font-weight="normal" fill="#4D4D4D" stroke="#4D4D4D" stroke-width="0.18">0.75</text>
<line x1="192.6" y1="32.2" x2="194.6" y2="32.2" stroke="#333" stroke-width="0.8"/>
<text x="192" y="34.4" font-size="6" text-anchor="end" font-weight="normal" fill="#4D4D4D" stroke="#4D4D4D" stroke-width="0.18">1.00</text>
<line x1="192.6" y1="81.65" x2="194.6" y2="81.65" stroke="#333" stroke-width="0.8"/>
<text x="192" y="83.85" font-size="6" text-anchor="end" font-weight="normal" fill="#4D4D4D" stroke="#4D4D4D" stroke-width="0.18">1.00</text>
<text x="176" y="79.2" font-size="7.55" text-anchor="middle" font-weight="bold" fill="#000" transform="rotate(-90 176 79.2)" stroke="#000" stroke-width="0.22">Prop. genomes</text>
<line x1="206.6" y1="123.8" x2="206.6" y2="125.8" stroke="#333" stroke-width="0.8"/>
<text x="209.1" y="126.8" font-size="7.5" text-anchor="end" font-weight="normal" fill="#4D4D4D" transform="rotate(-90 209.1 126.8)" stroke="#4D4D4D" stroke-width="0.18">Nov−19</text>
<line x1="219.31" y1="123.8" x2="219.31" y2="125.8" stroke="#333" stroke-width="0.8"/>
<text x="221.81" y="126.8" font-size="7.5" text-anchor="end" font-weight="normal" fill="#4D4D4D" transform="rotate(-90 221.81 126.8)" stroke="#4D4D4D" stroke-width="0.18">Jan−20</text>
<line x1="232.03" y1="123.8" x2="232.03" y2="125.8" stroke="#333" stroke-width="0.8"/>
<text x="234.53" y="126.8" font-size="7.5" text-anchor="end" font-weight="normal" fill="#4D4D4D" transform="rotate(-90 234.53 126.8)" stroke="#4D4D4D" stroke-width="0.18">Mar−20</text>
<line x1="244.74" y1="123.8" x2="244.74" y2="125.8" stroke="#333" stroke-width="0.8"/>
<text x="247.24" y="126.8" font-size="7.5" text-anchor="end" font-weight="normal" fill="#4D4D4D" transform="rotate(-90 247.24 126.8)" stroke="#4D4D4D" stroke-width="0.18">May−20</text>
<line x1="257.46" y1="123.8" x2="257.46" y2="125.8" stroke="#333" stroke-width="0.8"/>
<text x="259.96" y="126.8" font-size="7.5" text-anchor="end" font-weight="normal" fill="#4D4D4D" transform="rotate(-90 259.96 126.8)" stroke="#4D4D4D" stroke-width="0.18">Jul−20</text>
<line x1="270.17" y1="123.8" x2="270.17" y2="125.8" stroke="#333" stroke-width="0.8"/>
<text x="272.67" y="126.8" font-size="7.5" text-anchor="end" font-weight="normal" fill="#4D4D4D" transform="rotate(-90 272.67 126.8)" stroke="#4D4D4D" stroke-width="0.18">Sep−20</text>
<line x1="282.88" y1="123.8" x2="282.88" y2="125.8" stroke="#333" stroke-width="0.8"/>
<text x="285.38" y="126.8" font-size="7.5" text-anchor="end" font-weight="normal" fill="#4D4D4D" transform="rotate(-90 285.38 126.8)" stroke="#4D4D4D" stroke-width="0.18">Nov−20</text>
<line x1="295.6" y1="123.8" x2="295.6" y2="125.8" stroke="#333" stroke-width="0.8"/>
<text x="298.1" y="126.8" font-size="7.5" text-anchor="end" font-weight="normal" fill="#4D4D4D" transform="rotate(-90 298.1 126.8)" stroke="#4D4D4D" stroke-width="0.18">Jan−21</text>
<line x1="308.31" y1="123.8" x2="308.31" y2="125.8" stroke="#333" stroke-width="0.8"/>
<text x="310.81" y="126.8" font-size="7.5" text-anchor="end" font-weight="normal" fill="#4D4D4D" transform="rotate(-90 310.81 126.8)" stroke="#4D4D4D" stroke-width="0.18">Mar−21</text>
<line x1="321.03" y1="123.8" x2="321.03" y2="125.8" stroke="#333" stroke-width="0.8"/>
<text x="323.53" y="126.8" font-size="7.5" text-anchor="end" font-weight="normal" fill="#4D4D4D" transform="rotate(-90 323.53 126.8)" stroke="#4D4D4D" stroke-width="0.18">May−21</text>
<line x1="333.74" y1="123.8" x2="333.74" y2="125.8" stroke="#333" stroke-width="0.8"/>
<text x="336.24" y="126.8" font-size="7.5" text-anchor="end" font-weight="normal" fill="#4D4D4D" transform="rotate(-90 336.24 126.8)" stroke="#4D4D4D" stroke-width="0.18">Jul−21</text>
<line x1="346.45" y1="123.8" x2="346.45" y2="125.8" stroke="#333" stroke-width="0.8"/>
<text x="348.95" y="126.8" font-size="7.5" text-anchor="end" font-weight="normal" fill="#4D4D4D" transform="rotate(-90 348.95 126.8)" stroke="#4D4D4D" stroke-width="0.18">Sep−21</text>
<line x1="359.17" y1="123.8" x2="359.17" y2="125.8" stroke="#333" stroke-width="0.8"/>
<text x="361.67" y="126.8" font-size="7.5" text-anchor="end" font-weight="normal" fill="#4D4D4D" transform="rotate(-90 361.67 126.8)" stroke="#4D4D4D" stroke-width="0.18">Nov−21</text>
<line x1="371.88" y1="123.8" x2="371.88" y2="125.8" stroke="#333" stroke-width="0.8"/>
<text x="374.38" y="126.8" font-size="7.5" text-anchor="end" font-weight="normal" fill="#4D4D4D" transform="rotate(-90 374.38 126.8)" stroke="#4D4D4D" stroke-width="0.18">Jan−22</text>
<line x1="384.6" y1="123.8" x2="384.6" y2="125.8" stroke="#333" stroke-width="0.8"/>
<text x="387.1" y="126.8" font-size="7.5" text-anchor="end" font-weight="normal" fill="#4D4D4D" transform="rotate(-90 387.1 126.8)" stroke="#4D4D4D" stroke-width="0.18">Mar−22</text>
<line x1="397.31" y1="123.8" x2="397.31" y2="125.8" stroke="#333" stroke-width="0.8"/>
<text x="399.81" y="126.8" font-size="7.5" text-anchor="end" font-weight="normal" fill="#4D4D4D" transform="rotate(-90 399.81 126.8)" stroke="#4D4D4D" stroke-width="0.18">May−22</text>
<line x1="410.02" y1="123.8" x2="410.02" y2="125.8" stroke="#333" stroke-width="0.8"/>
<text x="412.52" y="126.8" font-size="7.5" text-anchor="end" font-weight="normal" fill="#4D4D4D" transform="rotate(-90 412.52 126.8)" stroke="#4D4D4D" stroke-width="0.18">Jul−22</text>
<line x1="422.74" y1="123.8" x2="422.74" y2="125.8" stroke="#333" stroke-width="0.8"/>
<text x="425.24" y="126.8" font-size="7.5" text-anchor="end" font-weight="normal" fill="#4D4D4D" transform="rotate(-90 425.24 126.8)" stroke="#4D4D4D" stroke-width="0.18">Sep−22</text>
<line x1="435.45" y1="123.8" x2="435.45" y2="125.8" stroke="#333" stroke-width="0.8"/>
<text x="437.95" y="126.8" font-size="7.5" text-anchor="end" font-weight="normal" fill="#4D4D4D" transform="rotate(-90 437.95 126.8)" stroke="#4D4D4D" stroke-width="0.18">Nov−22</text>
<line x1="448.17" y1="123.8" x2="448.17" y2="125.8" stroke="#333" stroke-width="0.8"/>
<text x="450.67" y="126.8" font-size="7.5" text-anchor="end" font-weight="normal" fill="#4D4D4D" transform="rotate(-90 450.67 126.8)" stroke="#4D4D4D" stroke-width="0.18">Jan−23</text>
<line x1="460.88" y1="123.8" x2="460.88" y2="125.8" stroke="#333" stroke-width="0.8"/>
<text x="463.38" y="126.8" font-size="7.5" text-anchor="end" font-weight="normal" fill="#4D4D4D" transform="rotate(-90 463.38 126.8)" stroke="#4D4D4D" stroke-width="0.18">Mar−23</text>
<line x1="473.59" y1="123.8" x2="473.59" y2="125.8" stroke="#333" stroke-width="0.8"/>
<text x="476.09" y="126.8" font-size="7.5" text-anchor="end" font-weight="normal" fill="#4D4D4D" transform="rotate(-90 476.09 126.8)" stroke="#4D4D4D" stroke-width="0.18">May−23</text>
<line x1="486.31" y1="123.8" x2="486.31" y2="125.8" stroke="#333" stroke-width="0.8"/>
<text x="488.81" y="126.8" font-size="7.5" text-anchor="end" font-weight="normal" fill="#4D4D4D" transform="rotate(-90 488.81 126.8)" stroke="#4D4D4D" stroke-width="0.18">Jul−23</text>
<line x1="499.02" y1="123.8" x2="499.02" y2="125.8" stroke="#333" stroke-width="0.8"/>
<text x="501.52" y="126.8" font-size="7.5" text-anchor="end" font-weight="normal" fill="#4D4D4D" transform="rotate(-90 501.52 126.8)" stroke="#4D4D4D" stroke-width="0.18">Sep−23</text>
<line x1="511.74" y1="123.8" x2="511.74" y2="125.8" stroke="#333" stroke-width="0.8"/>
<text x="514.24" y="126.8" font-size="7.5" text-anchor="end" font-weight="normal" fill="#4D4D4D" transform="rotate(-90 514.24 126.8)" stroke="#4D4D4D" stroke-width="0.18">Nov−23</text>
<line x1="524.45" y1="123.8" x2="524.45" y2="125.8" stroke="#333" stroke-width="0.8"/>
<text x="526.95" y="126.8" font-size="7.5" text-anchor="end" font-weight="normal" fill="#4D4D4D" transform="rotate(-90 526.95 126.8)" stroke="#4D4D4D" stroke-width="0.18">Jan−24</text>
<line x1="537.16" y1="123.8" x2="537.16" y2="125.8" stroke="#333" stroke-width="0.8"/>
<text x="539.66" y="126.8" font-size="7.5" text-anchor="end" font-weight="normal" fill="#4D4D4D" transform="rotate(-90 539.66 126.8)" stroke="#4D4D4D" stroke-width="0.18">Mar−24</text>
<line x1="549.88" y1="123.8" x2="549.88" y2="125.8" stroke="#333" stroke-width="0.8"/>
<text x="552.38" y="126.8" font-size="7.5" text-anchor="end" font-weight="normal" fill="#4D4D4D" transform="rotate(-90 552.38 126.8)" stroke="#4D4D4D" stroke-width="0.18">May−24</text>
<line x1="562.59" y1="123.8" x2="562.59" y2="125.8" stroke="#333" stroke-width="0.8"/>
<text x="565.09" y="126.8" font-size="7.5" text-anchor="end" font-weight="normal" fill="#4D4D4D" transform="rotate(-90 565.09 126.8)" stroke="#4D4D4D" stroke-width="0.18">Jul−24</text>
<line x1="575.31" y1="123.8" x2="575.31" y2="125.8" stroke="#333" stroke-width="0.8"/>
<text x="577.81" y="126.8" font-size="7.5" text-anchor="end" font-weight="normal" fill="#4D4D4D" transform="rotate(-90 577.81 126.8)" stroke="#4D4D4D" stroke-width="0.18">Sep−24</text>
<text x="377" y="167.9" font-size="8.3" text-anchor="middle" font-weight="bold" fill="#000" stroke="#000" stroke-width="0.22">Collection month</text>
<rect x="40" y="175.2" width="144.6" height="51.8" fill="#fff" stroke="none" stroke-width="1"/>
<line x1="40" y1="219.57" x2="184.6" y2="219.57" stroke="#F3F3F3" stroke-width="0.6"/>
<line x1="40" y1="208.32" x2="184.6" y2="208.32" stroke="#F3F3F3" stroke-width="0.6"/>
<line x1="40" y1="197.07" x2="184.6" y2="197.07" stroke="#F3F3F3" stroke-width="0.6"/>
<line x1="40" y1="185.82" x2="184.6" y2="185.82" stroke="#F3F3F3" stroke-width="0.6"/>
<line x1="57.7" y1="175.2" x2="57.7" y2="227" stroke="#F3F3F3" stroke-width="0.6"/>
<line x1="94" y1="175.2" x2="94" y2="227" stroke="#F3F3F3" stroke-width="0.6"/>
<line x1="130.3" y1="175.2" x2="130.3" y2="227" stroke="#F3F3F3" stroke-width="0.6"/>
<line x1="166.6" y1="175.2" x2="166.6" y2="227" stroke="#F3F3F3" stroke-width="0.6"/>
<line x1="40" y1="225.2" x2="184.6" y2="225.2" stroke="#EBEBEB" stroke-width="0.8"/>
<line x1="40" y1="213.95" x2="184.6" y2="213.95" stroke="#EBEBEB" stroke-width="0.8"/>
<line x1="40" y1="202.7" x2="184.6" y2="202.7" stroke="#EBEBEB" stroke-width="0.8"/>
<line x1="40" y1="191.45" x2="184.6" y2="191.45" stroke="#EBEBEB" stroke-width="0.8"/>
<line x1="40" y1="180.2" x2="184.6" y2="180.2" stroke="#EBEBEB" stroke-width="0.8"/>
<line x1="75.8" y1="175.2" x2="75.8" y2="227" stroke="#EBEBEB" stroke-width="0.8"/>
<line x1="112.1" y1="175.2" x2="112.1" y2="227" stroke="#EBEBEB" stroke-width="0.8"/>
<line x1="148.4" y1="175.2" x2="148.4" y2="227" stroke="#EBEBEB" stroke-width="0.8"/>
<rect x="46.1" y="222" width="4.55" height="3.2" fill="#ADDDEC" stroke="#1f1f1f" stroke-width="0.75"/>
<rect x="50.65" y="218.4" width="4.55" height="6.8" fill="#ADDDEC" stroke="#1f1f1f" stroke-width="0.75"/>
<rect x="55.2" y="212.5" width="4.55" height="12.7" fill="#ADDDEC" stroke="#1f1f1f" stroke-width="0.75"/>
<rect x="59.75" y="221.6" width="4.55" height="3.6" fill="#ADDDEC" stroke="#1f1f1f" stroke-width="0.75"/>
<rect x="64.3" y="218.4" width="4.55" height="6.8" fill="#ADDDEC" stroke="#1f1f1f" stroke-width="0.75"/>
<rect x="68.85" y="207.5" width="4.55" height="17.7" fill="#ADDDEC" stroke="#1f1f1f" stroke-width="0.75"/>
<rect x="73.4" y="213.5" width="4.55" height="11.7" fill="#ADDDEC" stroke="#1f1f1f" stroke-width="0.75"/>
<rect x="77.95" y="210.2" width="4.55" height="15" fill="#ADDDEC" stroke="#1f1f1f" stroke-width="0.75"/>
<rect x="82.5" y="214.5" width="4.55" height="10.7" fill="#ADDDEC" stroke="#1f1f1f" stroke-width="0.75"/>
<rect x="87.05" y="198.2" width="4.55" height="27" fill="#ADDDEC" stroke="#1f1f1f" stroke-width="0.75"/>
<rect x="91.6" y="192" width="4.55" height="33.2" fill="#ADDDEC" stroke="#1f1f1f" stroke-width="0.75"/>
<rect x="96.15" y="209.8" width="4.55" height="15.4" fill="#ADDDEC" stroke="#1f1f1f" stroke-width="0.75"/>
<rect x="100.7" y="208.8" width="4.55" height="16.4" fill="#ADDDEC" stroke="#1f1f1f" stroke-width="0.75"/>
<rect x="105.25" y="194.8" width="4.55" height="30.4" fill="#ADDDEC" stroke="#1f1f1f" stroke-width="0.75"/>
<rect x="109.8" y="177.7" width="4.55" height="47.5" fill="#ADDDEC" stroke="#1f1f1f" stroke-width="0.75"/>
<rect x="114.35" y="194.5" width="4.55" height="30.7" fill="#ADDDEC" stroke="#1f1f1f" stroke-width="0.75"/>
<rect x="118.9" y="213.6" width="4.55" height="11.6" fill="#ADDDEC" stroke="#1f1f1f" stroke-width="0.75"/>
<rect x="123.45" y="213.6" width="4.55" height="11.6" fill="#ADDDEC" stroke="#1f1f1f" stroke-width="0.75"/>
<rect x="128" y="192" width="4.55" height="33.2" fill="#ADDDEC" stroke="#1f1f1f" stroke-width="0.75"/>
<rect x="132.55" y="197.5" width="4.55" height="27.7" fill="#ADDDEC" stroke="#1f1f1f" stroke-width="0.75"/>
<rect x="137.1" y="215.2" width="4.55" height="10" fill="#ADDDEC" stroke="#1f1f1f" stroke-width="0.75"/>
<rect x="141.65" y="211.5" width="4.55" height="13.7" fill="#ADDDEC" stroke="#1f1f1f" stroke-width="0.75"/>
<rect x="146.2" y="214.5" width="4.55" height="10.7" fill="#ADDDEC" stroke="#1f1f1f" stroke-width="0.75"/>
<rect x="150.75" y="207.7" width="4.55" height="17.5" fill="#ADDDEC" stroke="#1f1f1f" stroke-width="0.75"/>
<rect x="155.3" y="217.5" width="4.55" height="7.7" fill="#ADDDEC" stroke="#1f1f1f" stroke-width="0.75"/>
<rect x="159.85" y="222.5" width="4.55" height="2.7" fill="#ADDDEC" stroke="#1f1f1f" stroke-width="0.75"/>
<rect x="164.4" y="211.5" width="4.55" height="13.7" fill="#ADDDEC" stroke="#1f1f1f" stroke-width="0.75"/>
<rect x="168.95" y="218.4" width="4.55" height="6.8" fill="#ADDDEC" stroke="#1f1f1f" stroke-width="0.75"/>
<rect x="173.5" y="221.6" width="4.55" height="3.6" fill="#ADDDEC" stroke="#1f1f1f" stroke-width="0.75"/>
<rect x="40" y="175.2" width="144.6" height="51.8" fill="none" stroke="#333" stroke-width="1"/>
<line x1="38" y1="225.2" x2="40" y2="225.2" stroke="#333" stroke-width="0.8"/>
<text x="35.7" y="227.76" font-size="7.1" text-anchor="end" font-weight="normal" fill="#4D4D4D" stroke="#4D4D4D" stroke-width="0.18">0</text>
<line x1="38" y1="213.95" x2="40" y2="213.95" stroke="#333" stroke-width="0.8"/>
<text x="35.7" y="216.51" font-size="7.1" text-anchor="end" font-weight="normal" fill="#4D4D4D" stroke="#4D4D4D" stroke-width="0.18">2500</text>
<line x1="38" y1="202.7" x2="40" y2="202.7" stroke="#333" stroke-width="0.8"/>
<text x="35.7" y="205.26" font-size="7.1" text-anchor="end" font-weight="normal" fill="#4D4D4D" stroke="#4D4D4D" stroke-width="0.18">5000</text>
<line x1="38" y1="191.45" x2="40" y2="191.45" stroke="#333" stroke-width="0.8"/>
<text x="35.7" y="194.01" font-size="7.1" text-anchor="end" font-weight="normal" fill="#4D4D4D" stroke="#4D4D4D" stroke-width="0.18">7500</text>
<line x1="38" y1="180.2" x2="40" y2="180.2" stroke="#333" stroke-width="0.8"/>
<text x="35.7" y="182.76" font-size="7.1" text-anchor="end" font-weight="normal" fill="#4D4D4D" stroke="#4D4D4D" stroke-width="0.18">10000</text>
<line x1="75.8" y1="227" x2="75.8" y2="229" stroke="#333" stroke-width="0.8"/>
<text x="75.8" y="237.1" font-size="7.1" text-anchor="middle" font-weight="normal" fill="#4D4D4D" stroke="#4D4D4D" stroke-width="0.18">−5</text>
<line x1="112.1" y1="227" x2="112.1" y2="229" stroke="#333" stroke-width="0.8"/>
<text x="112.1" y="237.1" font-size="7.1" text-anchor="middle" font-weight="normal" fill="#4D4D4D" stroke="#4D4D4D" stroke-width="0.18">0</text>
<line x1="148.4" y1="227" x2="148.4" y2="229" stroke="#333" stroke-width="0.8"/>
<text x="148.4" y="237.1" font-size="7.1" text-anchor="middle" font-weight="normal" fill="#4D4D4D" stroke="#4D4D4D" stroke-width="0.18">5</text>
<text x="113.4" y="245.6" font-size="8.3" text-anchor="middle" font-weight="bold" fill="#000" stroke="#000" stroke-width="0.22">Δ Hydropathy score</text>
<rect x="40" y="249.2" width="144.2" height="52.8" fill="#fff" stroke="none" stroke-width="1"/>
<line x1="40" y1="292.25" x2="184.2" y2="292.25" stroke="#F3F3F3" stroke-width="0.6"/>
<line x1="40" y1="278.35" x2="184.2" y2="278.35" stroke="#F3F3F3" stroke-width="0.6"/>
<line x1="40" y1="264.45" x2="184.2" y2="264.45" stroke="#F3F3F3" stroke-width="0.6"/>
<line x1="62.8" y1="249.2" x2="62.8" y2="302" stroke="#F3F3F3" stroke-width="0.6"/>
<line x1="96" y1="249.2" x2="96" y2="302" stroke="#F3F3F3" stroke-width="0.6"/>
<line x1="128.9" y1="249.2" x2="128.9" y2="302" stroke="#F3F3F3" stroke-width="0.6"/>
<line x1="161.6" y1="249.2" x2="161.6" y2="302" stroke="#F3F3F3" stroke-width="0.6"/>
<line x1="40" y1="299.2" x2="184.2" y2="299.2" stroke="#EBEBEB" stroke-width="0.8"/>
<line x1="40" y1="285.3" x2="184.2" y2="285.3" stroke="#EBEBEB" stroke-width="0.8"/>
<line x1="40" y1="271.4" x2="184.2" y2="271.4" stroke="#EBEBEB" stroke-width="0.8"/>
<line x1="40" y1="257.5" x2="184.2" y2="257.5" stroke="#EBEBEB" stroke-width="0.8"/>
<line x1="46.25" y1="249.2" x2="46.25" y2="302" stroke="#EBEBEB" stroke-width="0.8"/>
<line x1="79.4" y1="249.2" x2="79.4" y2="302" stroke="#EBEBEB" stroke-width="0.8"/>
<line x1="112.5" y1="249.2" x2="112.5" y2="302" stroke="#EBEBEB" stroke-width="0.8"/>
<line x1="145.2" y1="249.2" x2="145.2" y2="302" stroke="#EBEBEB" stroke-width="0.8"/>
<line x1="178" y1="249.2" x2="178" y2="302" stroke="#EBEBEB" stroke-width="0.8"/>
<rect x="46.2" y="297.4" width="4.56" height="1.8" fill="#6A5ACD" stroke="#1f1f1f" stroke-width="0.75"/>
<rect x="50.76" y="298.8" width="4.56" height="0.4" fill="#6A5ACD" stroke="#1f1f1f" stroke-width="0.75"/>
<rect x="55.32" y="298.8" width="4.56" height="0.4" fill="#6A5ACD" stroke="#1f1f1f" stroke-width="0.75"/>
<rect x="59.88" y="298.8" width="4.56" height="0.4" fill="#6A5ACD" stroke="#1f1f1f" stroke-width="0.75"/>
<rect x="64.44" y="298.2" width="4.56" height="1" fill="#6A5ACD" stroke="#1f1f1f" stroke-width="0.75"/>
<rect x="69" y="297.6" width="4.56" height="1.6" fill="#6A5ACD" stroke="#1f1f1f" stroke-width="0.75"/>
<rect x="73.56" y="298.95" width="4.56" height="0.25" fill="#6A5ACD" stroke="#1f1f1f" stroke-width="0.75"/>
<rect x="78.12" y="285.9" width="4.56" height="13.3" fill="#6A5ACD" stroke="#1f1f1f" stroke-width="0.75"/>
<rect x="82.68" y="298.5" width="4.56" height="0.7" fill="#6A5ACD" stroke="#1f1f1f" stroke-width="0.75"/>
<rect x="87.24" y="298.95" width="4.56" height="0.25" fill="#6A5ACD" stroke="#1f1f1f" stroke-width="0.75"/>
<rect x="91.8" y="298.5" width="4.56" height="0.7" fill="#6A5ACD" stroke="#1f1f1f" stroke-width="0.75"/>
<rect x="96.36" y="294.1" width="4.56" height="5.1" fill="#6A5ACD" stroke="#1f1f1f" stroke-width="0.75"/>
<rect x="100.92" y="288.2" width="4.56" height="11" fill="#6A5ACD" stroke="#1f1f1f" stroke-width="0.75"/>
<rect x="105.48" y="294.4" width="4.56" height="4.8" fill="#6A5ACD" stroke="#1f1f1f" stroke-width="0.75"/>
<rect x="110.04" y="251.7" width="4.56" height="47.5" fill="#6A5ACD" stroke="#1f1f1f" stroke-width="0.75"/>
<rect x="114.6" y="292.4" width="4.56" height="6.8" fill="#6A5ACD" stroke="#1f1f1f" stroke-width="0.75"/>
<rect x="119.16" y="290.4" width="4.56" height="8.8" fill="#6A5ACD" stroke="#1f1f1f" stroke-width="0.75"/>
<rect x="123.72" y="292.7" width="4.56" height="6.5" fill="#6A5ACD" stroke="#1f1f1f" stroke-width="0.75"/>
<rect x="128.28" y="297.1" width="4.56" height="2.1" fill="#6A5ACD" stroke="#1f1f1f" stroke-width="0.75"/>
<rect x="132.84" y="298.8" width="4.56" height="0.4" fill="#6A5ACD" stroke="#1f1f1f" stroke-width="0.75"/>
<rect x="137.4" y="298.8" width="4.56" height="0.4" fill="#6A5ACD" stroke="#1f1f1f" stroke-width="0.75"/>
<rect x="141.96" y="282.5" width="4.56" height="16.7" fill="#6A5ACD" stroke="#1f1f1f" stroke-width="0.75"/>
<rect x="146.52" y="298.2" width="4.56" height="1" fill="#6A5ACD" stroke="#1f1f1f" stroke-width="0.75"/>
<rect x="151.08" y="298" width="4.56" height="1.2" fill="#6A5ACD" stroke="#1f1f1f" stroke-width="0.75"/>
<rect x="155.64" y="298.8" width="4.56" height="0.4" fill="#6A5ACD" stroke="#1f1f1f" stroke-width="0.75"/>
<rect x="160.2" y="298.8" width="4.56" height="0.4" fill="#6A5ACD" stroke="#1f1f1f" stroke-width="0.75"/>
<rect x="164.76" y="298.8" width="4.56" height="0.4" fill="#6A5ACD" stroke="#1f1f1f" stroke-width="0.75"/>
<rect x="169.32" y="298.8" width="4.56" height="0.4" fill="#6A5ACD" stroke="#1f1f1f" stroke-width="0.75"/>
<rect x="173.88" y="297.2" width="4.56" height="2" fill="#6A5ACD" stroke="#1f1f1f" stroke-width="0.75"/>
<rect x="40" y="249.2" width="144.2" height="52.8" fill="none" stroke="#333" stroke-width="1"/>
<line x1="38" y1="299.2" x2="40" y2="299.2" stroke="#333" stroke-width="0.8"/>
<text x="35.7" y="301.76" font-size="7.1" text-anchor="end" font-weight="normal" fill="#4D4D4D" stroke="#4D4D4D" stroke-width="0.18">0</text>
<line x1="38" y1="285.3" x2="40" y2="285.3" stroke="#333" stroke-width="0.8"/>
<text x="35.7" y="287.86" font-size="7.1" text-anchor="end" font-weight="normal" fill="#4D4D4D" stroke="#4D4D4D" stroke-width="0.18">10000</text>
<line x1="38" y1="271.4" x2="40" y2="271.4" stroke="#333" stroke-width="0.8"/>
<text x="35.7" y="273.96" font-size="7.1" text-anchor="end" font-weight="normal" fill="#4D4D4D" stroke="#4D4D4D" stroke-width="0.18">20000</text>
<line x1="38" y1="257.5" x2="40" y2="257.5" stroke="#333" stroke-width="0.8"/>
<text x="35.7" y="260.06" font-size="7.1" text-anchor="end" font-weight="normal" fill="#4D4D4D" stroke="#4D4D4D" stroke-width="0.18">30000</text>
<line x1="46.25" y1="302" x2="46.25" y2="304" stroke="#333" stroke-width="0.8"/>
<text x="46.25" y="311.5" font-size="7.1" text-anchor="middle" font-weight="normal" fill="#4D4D4D" stroke="#4D4D4D" stroke-width="0.18">−2</text>
<line x1="79.4" y1="302" x2="79.4" y2="304" stroke="#333" stroke-width="0.8"/>
<text x="79.4" y="311.5" font-size="7.1" text-anchor="middle" font-weight="normal" fill="#4D4D4D" stroke="#4D4D4D" stroke-width="0.18">−1</text>
<line x1="112.5" y1="302" x2="112.5" y2="304" stroke="#333" stroke-width="0.8"/>
<text x="112.5" y="311.5" font-size="7.1" text-anchor="middle" font-weight="normal" fill="#4D4D4D" stroke="#4D4D4D" stroke-width="0.18">0</text>
<line x1="145.2" y1="302" x2="145.2" y2="304" stroke="#333" stroke-width="0.8"/>
<text x="145.2" y="311.5" font-size="7.1" text-anchor="middle" font-weight="normal" fill="#4D4D4D" stroke="#4D4D4D" stroke-width="0.18">1</text>
<line x1="178" y1="302" x2="178" y2="304" stroke="#333" stroke-width="0.8"/>
<text x="178" y="311.5" font-size="7.1" text-anchor="middle" font-weight="normal" fill="#4D4D4D" stroke="#4D4D4D" stroke-width="0.18">2</text>
<text x="112.8" y="319.2" font-size="8.3" text-anchor="middle" font-weight="bold" fill="#000" stroke="#000" stroke-width="0.22">Δ Charge</text>
<rect x="39.9" y="323" width="144.3" height="53" fill="#fff" stroke="none" stroke-width="1"/>
<line x1="39.9" y1="367.1" x2="184.2" y2="367.1" stroke="#F3F3F3" stroke-width="0.6"/>
<line x1="39.9" y1="354.5" x2="184.2" y2="354.5" stroke="#F3F3F3" stroke-width="0.6"/>
<line x1="39.9" y1="341.9" x2="184.2" y2="341.9" stroke="#F3F3F3" stroke-width="0.6"/>
<line x1="49" y1="323" x2="49" y2="376" stroke="#F3F3F3" stroke-width="0.6"/>
<line x1="74.2" y1="323" x2="74.2" y2="376" stroke="#F3F3F3" stroke-width="0.6"/>
<line x1="99.4" y1="323" x2="99.4" y2="376" stroke="#F3F3F3" stroke-width="0.6"/>
<line x1="124.6" y1="323" x2="124.6" y2="376" stroke="#F3F3F3" stroke-width="0.6"/>
<line x1="149.9" y1="323" x2="149.9" y2="376" stroke="#F3F3F3" stroke-width="0.6"/>
<line x1="175.1" y1="323" x2="175.1" y2="376" stroke="#F3F3F3" stroke-width="0.6"/>
<line x1="39.9" y1="373.4" x2="184.2" y2="373.4" stroke="#EBEBEB" stroke-width="0.8"/>
<line x1="39.9" y1="360.8" x2="184.2" y2="360.8" stroke="#EBEBEB" stroke-width="0.8"/>
<line x1="39.9" y1="348.2" x2="184.2" y2="348.2" stroke="#EBEBEB" stroke-width="0.8"/>
<line x1="39.9" y1="335.6" x2="184.2" y2="335.6" stroke="#EBEBEB" stroke-width="0.8"/>
<line x1="61.6" y1="323" x2="61.6" y2="376" stroke="#EBEBEB" stroke-width="0.8"/>
<line x1="86.8" y1="323" x2="86.8" y2="376" stroke="#EBEBEB" stroke-width="0.8"/>
<line x1="112" y1="323" x2="112" y2="376" stroke="#EBEBEB" stroke-width="0.8"/>
<line x1="137.3" y1="323" x2="137.3" y2="376" stroke="#EBEBEB" stroke-width="0.8"/>
<line x1="162.5" y1="323" x2="162.5" y2="376" stroke="#EBEBEB" stroke-width="0.8"/>
<rect x="46" y="372.5" width="4.56" height="0.9" fill="#8FC08F" stroke="#1f1f1f" stroke-width="0.75"/>
<rect x="50.56" y="372.5" width="4.56" height="0.9" fill="#8FC08F" stroke="#1f1f1f" stroke-width="0.75"/>
<rect x="55.12" y="372.3" width="4.56" height="1.1" fill="#8FC08F" stroke="#1f1f1f" stroke-width="0.75"/>
<rect x="59.68" y="371.2" width="4.56" height="2.2" fill="#8FC08F" stroke="#1f1f1f" stroke-width="0.75"/>
<rect x="64.24" y="371.2" width="4.56" height="2.2" fill="#8FC08F" stroke="#1f1f1f" stroke-width="0.75"/>
<rect x="68.8" y="370.8" width="4.56" height="2.6" fill="#8FC08F" stroke="#1f1f1f" stroke-width="0.75"/>
<rect x="73.36" y="368.4" width="4.56" height="5" fill="#8FC08F" stroke="#1f1f1f" stroke-width="0.75"/>
<rect x="77.92" y="362.3" width="4.56" height="11.1" fill="#8FC08F" stroke="#1f1f1f" stroke-width="0.75"/>
<rect x="82.48" y="361.6" width="4.56" height="11.8" fill="#8FC08F" stroke="#1f1f1f" stroke-width="0.75"/>
<rect x="87.04" y="350.5" width="4.56" height="22.9" fill="#8FC08F" stroke="#1f1f1f" stroke-width="0.75"/>
<rect x="91.6" y="361.2" width="4.56" height="12.2" fill="#8FC08F" stroke="#1f1f1f" stroke-width="0.75"/>
<rect x="96.16" y="335.7" width="4.56" height="37.7" fill="#8FC08F" stroke="#1f1f1f" stroke-width="0.75"/>
<rect x="100.72" y="329.5" width="4.56" height="43.9" fill="#8FC08F" stroke="#1f1f1f" stroke-width="0.75"/>
<rect x="105.28" y="354.4" width="4.56" height="19" fill="#8FC08F" stroke="#1f1f1f" stroke-width="0.75"/>
<rect x="109.84" y="325.6" width="4.56" height="47.8" fill="#8FC08F" stroke="#1f1f1f" stroke-width="0.75"/>
<rect x="114.4" y="352.2" width="4.56" height="21.2" fill="#8FC08F" stroke="#1f1f1f" stroke-width="0.75"/>
<rect x="118.96" y="326.6" width="4.56" height="46.8" fill="#8FC08F" stroke="#1f1f1f" stroke-width="0.75"/>
<rect x="123.52" y="332.4" width="4.56" height="41" fill="#8FC08F" stroke="#1f1f1f" stroke-width="0.75"/>
<rect x="128.08" y="354.8" width="4.56" height="18.6" fill="#8FC08F" stroke="#1f1f1f" stroke-width="0.75"/>
<rect x="132.64" y="344.3" width="4.56" height="29.1" fill="#8FC08F" stroke="#1f1f1f" stroke-width="0.75"/>
<rect x="137.2" y="356.1" width="4.56" height="17.3" fill="#8FC08F" stroke="#1f1f1f" stroke-width="0.75"/>
<rect x="141.76" y="360.1" width="4.56" height="13.3" fill="#8FC08F" stroke="#1f1f1f" stroke-width="0.75"/>
<rect x="146.32" y="366.6" width="4.56" height="6.8" fill="#8FC08F" stroke="#1f1f1f" stroke-width="0.75"/>
<rect x="150.88" y="369.2" width="4.56" height="4.2" fill="#8FC08F" stroke="#1f1f1f" stroke-width="0.75"/>
<rect x="155.44" y="369.5" width="4.56" height="3.9" fill="#8FC08F" stroke="#1f1f1f" stroke-width="0.75"/>
<rect x="160" y="371.7" width="4.56" height="1.7" fill="#8FC08F" stroke="#1f1f1f" stroke-width="0.75"/>
<rect x="164.56" y="372.7" width="4.56" height="0.7" fill="#8FC08F" stroke="#1f1f1f" stroke-width="0.75"/>
<rect x="169.12" y="372.7" width="4.56" height="0.7" fill="#8FC08F" stroke="#1f1f1f" stroke-width="0.75"/>
<rect x="173.68" y="372" width="4.56" height="1.4" fill="#8FC08F" stroke="#1f1f1f" stroke-width="0.75"/>
<rect x="39.9" y="323" width="144.3" height="53" fill="none" stroke="#333" stroke-width="1"/>
<line x1="37.9" y1="373.4" x2="39.9" y2="373.4" stroke="#333" stroke-width="0.8"/>
<text x="35.6" y="375.96" font-size="7.1" text-anchor="end" font-weight="normal" fill="#4D4D4D" stroke="#4D4D4D" stroke-width="0.18">0</text>
<line x1="37.9" y1="360.8" x2="39.9" y2="360.8" stroke="#333" stroke-width="0.8"/>
<text x="35.6" y="363.36" font-size="7.1" text-anchor="end" font-weight="normal" fill="#4D4D4D" stroke="#4D4D4D" stroke-width="0.18">3000</text>
<line x1="37.9" y1="348.2" x2="39.9" y2="348.2" stroke="#333" stroke-width="0.8"/>
<text x="35.6" y="350.76" font-size="7.1" text-anchor="end" font-weight="normal" fill="#4D4D4D" stroke="#4D4D4D" stroke-width="0.18">6000</text>
<line x1="37.9" y1="335.6" x2="39.9" y2="335.6" stroke="#333" stroke-width="0.8"/>
<text x="35.6" y="338.16" font-size="7.1" text-anchor="end" font-weight="normal" fill="#4D4D4D" stroke="#4D4D4D" stroke-width="0.18">9000</text>
<line x1="61.6" y1="376" x2="61.6" y2="378" stroke="#333" stroke-width="0.8"/>
<text x="61.6" y="385.3" font-size="7.1" text-anchor="middle" font-weight="normal" fill="#4D4D4D" stroke="#4D4D4D" stroke-width="0.18">−100</text>
<line x1="86.8" y1="376" x2="86.8" y2="378" stroke="#333" stroke-width="0.8"/>
<text x="86.8" y="385.3" font-size="7.1" text-anchor="middle" font-weight="normal" fill="#4D4D4D" stroke="#4D4D4D" stroke-width="0.18">−50</text>
<line x1="112" y1="376" x2="112" y2="378" stroke="#333" stroke-width="0.8"/>
<text x="112" y="385.3" font-size="7.1" text-anchor="middle" font-weight="normal" fill="#4D4D4D" stroke="#4D4D4D" stroke-width="0.18">0</text>
<line x1="137.3" y1="376" x2="137.3" y2="378" stroke="#333" stroke-width="0.8"/>
<text x="137.3" y="385.3" font-size="7.1" text-anchor="middle" font-weight="normal" fill="#4D4D4D" stroke="#4D4D4D" stroke-width="0.18">50</text>
<line x1="162.5" y1="376" x2="162.5" y2="378" stroke="#333" stroke-width="0.8"/>
<text x="162.5" y="385.3" font-size="7.1" text-anchor="middle" font-weight="normal" fill="#4D4D4D" stroke="#4D4D4D" stroke-width="0.18">100</text>
<text x="112.9" y="395.6" font-size="8.3" text-anchor="middle" font-weight="bold" fill="#000" stroke="#000" stroke-width="0.22">Δ Molecular weight</text>
<text x="12.4" y="269.3" font-size="8.2" text-anchor="middle" font-weight="bold" fill="#000" transform="rotate(-90 12.4 269.3)" stroke="#000" stroke-width="0.22">Distinct mutations observed</text>
<rect x="206.2" y="175.2" width="144.8" height="52.1" fill="#fff" stroke="none" stroke-width="1"/>
<line x1="206.2" y1="216.85" x2="351" y2="216.85" stroke="#F3F3F3" stroke-width="0.6"/>
<line x1="206.2" y1="200.15" x2="351" y2="200.15" stroke="#F3F3F3" stroke-width="0.6"/>
<line x1="206.2" y1="183.45" x2="351" y2="183.45" stroke="#F3F3F3" stroke-width="0.6"/>
<line x1="236.6" y1="175.2" x2="236.6" y2="227.3" stroke="#F3F3F3" stroke-width="0.6"/>
<line x1="281" y1="175.2" x2="281" y2="227.3" stroke="#F3F3F3" stroke-width="0.6"/>
<line x1="325.4" y1="175.2" x2="325.4" y2="227.3" stroke="#F3F3F3" stroke-width="0.6"/>
<line x1="206.2" y1="225.2" x2="351" y2="225.2" stroke="#EBEBEB" stroke-width="0.8"/>
<line x1="206.2" y1="208.5" x2="351" y2="208.5" stroke="#EBEBEB" stroke-width="0.8"/>
<line x1="206.2" y1="191.8" x2="351" y2="191.8" stroke="#EBEBEB" stroke-width="0.8"/>
<line x1="214.5" y1="175.2" x2="214.5" y2="227.3" stroke="#EBEBEB" stroke-width="0.8"/>
<line x1="258.8" y1="175.2" x2="258.8" y2="227.3" stroke="#EBEBEB" stroke-width="0.8"/>
<line x1="303.2" y1="175.2" x2="303.2" y2="227.3" stroke="#EBEBEB" stroke-width="0.8"/>
<line x1="347.6" y1="175.2" x2="347.6" y2="227.3" stroke="#EBEBEB" stroke-width="0.8"/>
<rect x="213.5" y="224.4" width="4.38" height="0.8" fill="#4E8B96" stroke="#1f1f1f" stroke-width="0.75"/>
<rect x="217.88" y="223.4" width="4.38" height="1.8" fill="#4E8B96" stroke="#1f1f1f" stroke-width="0.75"/>
<rect x="222.26" y="221.4" width="4.38" height="3.8" fill="#4E8B96" stroke="#1f1f1f" stroke-width="0.75"/>
<rect x="226.64" y="219.3" width="4.38" height="5.9" fill="#4E8B96" stroke="#1f1f1f" stroke-width="0.75"/>
<rect x="231.02" y="218.9" width="4.38" height="6.3" fill="#4E8B96" stroke="#1f1f1f" stroke-width="0.75"/>
<rect x="235.4" y="218.6" width="4.38" height="6.6" fill="#4E8B96" stroke="#1f1f1f" stroke-width="0.75"/>
<rect x="239.78" y="218.6" width="4.38" height="6.6" fill="#4E8B96" stroke="#1f1f1f" stroke-width="0.75"/>
<rect x="244.16" y="220.7" width="4.38" height="4.5" fill="#4E8B96" stroke="#1f1f1f" stroke-width="0.75"/>
<rect x="248.54" y="222" width="4.38" height="3.2" fill="#4E8B96" stroke="#1f1f1f" stroke-width="0.75"/>
<rect x="252.92" y="222" width="4.38" height="3.2" fill="#4E8B96" stroke="#1f1f1f" stroke-width="0.75"/>
<rect x="257.3" y="222" width="4.38" height="3.2" fill="#4E8B96" stroke="#1f1f1f" stroke-width="0.75"/>
<rect x="261.68" y="222.7" width="4.38" height="2.5" fill="#4E8B96" stroke="#1f1f1f" stroke-width="0.75"/>
<rect x="266.06" y="222" width="4.38" height="3.2" fill="#4E8B96" stroke="#1f1f1f" stroke-width="0.75"/>
<rect x="270.44" y="222.5" width="4.38" height="2.7" fill="#4E8B96" stroke="#1f1f1f" stroke-width="0.75"/>
<rect x="274.82" y="219.7" width="4.38" height="5.5" fill="#4E8B96" stroke="#1f1f1f" stroke-width="0.75"/>
<rect x="279.2" y="218.4" width="4.38" height="6.8" fill="#4E8B96" stroke="#1f1f1f" stroke-width="0.75"/>
<rect x="283.58" y="217.5" width="4.38" height="7.7" fill="#4E8B96" stroke="#1f1f1f" stroke-width="0.75"/>
<rect x="287.96" y="212.9" width="4.38" height="12.3" fill="#4E8B96" stroke="#1f1f1f" stroke-width="0.75"/>
<rect x="292.34" y="198.5" width="4.38" height="26.7" fill="#4E8B96" stroke="#1f1f1f" stroke-width="0.75"/>
<rect x="296.72" y="177.5" width="4.38" height="47.7" fill="#4E8B96" stroke="#1f1f1f" stroke-width="0.75"/>
<rect x="301.1" y="183.5" width="4.38" height="41.7" fill="#4E8B96" stroke="#1f1f1f" stroke-width="0.75"/>
<rect x="305.48" y="219.7" width="4.38" height="5.5" fill="#4E8B96" stroke="#1f1f1f" stroke-width="0.75"/>
<rect x="309.86" y="223.8" width="4.38" height="1.4" fill="#4E8B96" stroke="#1f1f1f" stroke-width="0.75"/>
<rect x="314.24" y="224.4" width="4.38" height="0.8" fill="#4E8B96" stroke="#1f1f1f" stroke-width="0.75"/>
<rect x="318.62" y="224.8" width="4.38" height="0.4" fill="#4E8B96" stroke="#1f1f1f" stroke-width="0.75"/>
<rect x="323" y="224.8" width="4.38" height="0.4" fill="#4E8B96" stroke="#1f1f1f" stroke-width="0.75"/>
<rect x="327.38" y="224.9" width="4.38" height="0.3" fill="#4E8B96" stroke="#1f1f1f" stroke-width="0.75"/>
<rect x="331.76" y="224.9" width="4.38" height="0.3" fill="#4E8B96" stroke="#1f1f1f" stroke-width="0.75"/>
<rect x="336.14" y="224.9" width="4.38" height="0.3" fill="#4E8B96" stroke="#1f1f1f" stroke-width="0.75"/>
<rect x="340.52" y="224.9" width="4.38" height="0.3" fill="#4E8B96" stroke="#1f1f1f" stroke-width="0.75"/>
<rect x="206.2" y="175.2" width="144.8" height="52.1" fill="none" stroke="#333" stroke-width="1"/>
<line x1="204.2" y1="225.2" x2="206.2" y2="225.2" stroke="#333" stroke-width="0.8"/>
<text x="203.4" y="227.54" font-size="6.5" text-anchor="end" font-weight="normal" fill="#4D4D4D" stroke="#4D4D4D" stroke-width="0.18">0</text>
<line x1="204.2" y1="208.5" x2="206.2" y2="208.5" stroke="#333" stroke-width="0.8"/>
<text x="203.4" y="210.84" font-size="6.5" text-anchor="end" font-weight="normal" fill="#4D4D4D" stroke="#4D4D4D" stroke-width="0.18">200</text>
<line x1="204.2" y1="191.8" x2="206.2" y2="191.8" stroke="#333" stroke-width="0.8"/>
<text x="203.4" y="194.14" font-size="6.5" text-anchor="end" font-weight="normal" fill="#4D4D4D" stroke="#4D4D4D" stroke-width="0.18">400</text>
<line x1="214.5" y1="227.3" x2="214.5" y2="229.3" stroke="#333" stroke-width="0.8"/>
<text x="214.5" y="237" font-size="6.5" text-anchor="middle" font-weight="normal" fill="#4D4D4D" stroke="#4D4D4D" stroke-width="0.18">−4</text>
<line x1="258.8" y1="227.3" x2="258.8" y2="229.3" stroke="#333" stroke-width="0.8"/>
<text x="258.8" y="237" font-size="6.5" text-anchor="middle" font-weight="normal" fill="#4D4D4D" stroke="#4D4D4D" stroke-width="0.18">−2</text>
<line x1="303.2" y1="227.3" x2="303.2" y2="229.3" stroke="#333" stroke-width="0.8"/>
<text x="303.2" y="237" font-size="6.5" text-anchor="middle" font-weight="normal" fill="#4D4D4D" stroke="#4D4D4D" stroke-width="0.18">0</text>
<line x1="347.6" y1="227.3" x2="347.6" y2="229.3" stroke="#333" stroke-width="0.8"/>
<text x="347.6" y="237" font-size="6.5" text-anchor="middle" font-weight="normal" fill="#4D4D4D" stroke="#4D4D4D" stroke-width="0.18">2</text>
<text x="280.9" y="245.3" font-size="8.3" text-anchor="middle" font-weight="bold" fill="#000" stroke="#000" stroke-width="0.22">Δ ACE2 binding</text>
<rect x="206.4" y="249.3" width="144.6" height="52.7" fill="#fff" stroke="none" stroke-width="1"/>
<line x1="206.4" y1="294.05" x2="351" y2="294.05" stroke="#F3F3F3" stroke-width="0.6"/>
<line x1="206.4" y1="283.15" x2="351" y2="283.15" stroke="#F3F3F3" stroke-width="0.6"/>
<line x1="206.4" y1="272.25" x2="351" y2="272.25" stroke="#F3F3F3" stroke-width="0.6"/>
<line x1="206.4" y1="261.35" x2="351" y2="261.35" stroke="#F3F3F3" stroke-width="0.6"/>
<line x1="224.1" y1="249.3" x2="224.1" y2="302" stroke="#F3F3F3" stroke-width="0.6"/>
<line x1="254.3" y1="249.3" x2="254.3" y2="302" stroke="#F3F3F3" stroke-width="0.6"/>
<line x1="284.4" y1="249.3" x2="284.4" y2="302" stroke="#F3F3F3" stroke-width="0.6"/>
<line x1="314.4" y1="249.3" x2="314.4" y2="302" stroke="#F3F3F3" stroke-width="0.6"/>
<line x1="344.5" y1="249.3" x2="344.5" y2="302" stroke="#F3F3F3" stroke-width="0.6"/>
<line x1="206.4" y1="299.5" x2="351" y2="299.5" stroke="#EBEBEB" stroke-width="0.8"/>
<line x1="206.4" y1="288.6" x2="351" y2="288.6" stroke="#EBEBEB" stroke-width="0.8"/>
<line x1="206.4" y1="277.7" x2="351" y2="277.7" stroke="#EBEBEB" stroke-width="0.8"/>
<line x1="206.4" y1="266.8" x2="351" y2="266.8" stroke="#EBEBEB" stroke-width="0.8"/>
<line x1="206.4" y1="255.9" x2="351" y2="255.9" stroke="#EBEBEB" stroke-width="0.8"/>
<line x1="209" y1="249.3" x2="209" y2="302" stroke="#EBEBEB" stroke-width="0.8"/>
<line x1="239.2" y1="249.3" x2="239.2" y2="302" stroke="#EBEBEB" stroke-width="0.8"/>
<line x1="269.4" y1="249.3" x2="269.4" y2="302" stroke="#EBEBEB" stroke-width="0.8"/>
<line x1="299.4" y1="249.3" x2="299.4" y2="302" stroke="#EBEBEB" stroke-width="0.8"/>
<line x1="329.4" y1="249.3" x2="329.4" y2="302" stroke="#EBEBEB" stroke-width="0.8"/>
<rect x="213.1" y="298.8" width="4.39" height="0.7" fill="#F2716C" stroke="#1f1f1f" stroke-width="0.75"/>
<rect x="217.49" y="298.8" width="4.39" height="0.7" fill="#F2716C" stroke="#1f1f1f" stroke-width="0.75"/>
<rect x="221.88" y="297.7" width="4.39" height="1.8" fill="#F2716C" stroke="#1f1f1f" stroke-width="0.75"/>
<rect x="226.27" y="298" width="4.39" height="1.5" fill="#F2716C" stroke="#1f1f1f" stroke-width="0.75"/>
<rect x="230.66" y="297.5" width="4.39" height="2" fill="#F2716C" stroke="#1f1f1f" stroke-width="0.75"/>
<rect x="235.05" y="296.6" width="4.39" height="2.9" fill="#F2716C" stroke="#1f1f1f" stroke-width="0.75"/>
<rect x="239.44" y="295.7" width="4.39" height="3.8" fill="#F2716C" stroke="#1f1f1f" stroke-width="0.75"/>
<rect x="243.83" y="293.6" width="4.39" height="5.9" fill="#F2716C" stroke="#1f1f1f" stroke-width="0.75"/>
<rect x="248.22" y="294.3" width="4.39" height="5.2" fill="#F2716C" stroke="#1f1f1f" stroke-width="0.75"/>
<rect x="252.61" y="293" width="4.39" height="6.5" fill="#F2716C" stroke="#1f1f1f" stroke-width="0.75"/>
<rect x="257" y="293.4" width="4.39" height="6.1" fill="#F2716C" stroke="#1f1f1f" stroke-width="0.75"/>
<rect x="261.39" y="294.7" width="4.39" height="4.8" fill="#F2716C" stroke="#1f1f1f" stroke-width="0.75"/>
<rect x="265.78" y="294.3" width="4.39" height="5.2" fill="#F2716C" stroke="#1f1f1f" stroke-width="0.75"/>
<rect x="270.17" y="293" width="4.39" height="6.5" fill="#F2716C" stroke="#1f1f1f" stroke-width="0.75"/>
<rect x="274.56" y="295.7" width="4.39" height="3.8" fill="#F2716C" stroke="#1f1f1f" stroke-width="0.75"/>
<rect x="278.95" y="294.3" width="4.39" height="5.2" fill="#F2716C" stroke="#1f1f1f" stroke-width="0.75"/>
<rect x="283.34" y="294.3" width="4.39" height="5.2" fill="#F2716C" stroke="#1f1f1f" stroke-width="0.75"/>
<rect x="287.73" y="293.4" width="4.39" height="6.1" fill="#F2716C" stroke="#1f1f1f" stroke-width="0.75"/>
<rect x="292.12" y="293.6" width="4.39" height="5.9" fill="#F2716C" stroke="#1f1f1f" stroke-width="0.75"/>
<rect x="296.51" y="292.3" width="4.39" height="7.2" fill="#F2716C" stroke="#1f1f1f" stroke-width="0.75"/>
<rect x="300.9" y="290.2" width="4.39" height="9.3" fill="#F2716C" stroke="#1f1f1f" stroke-width="0.75"/>
<rect x="305.29" y="288.2" width="4.39" height="11.3" fill="#F2716C" stroke="#1f1f1f" stroke-width="0.75"/>
<rect x="309.68" y="287.1" width="4.39" height="12.4" fill="#F2716C" stroke="#1f1f1f" stroke-width="0.75"/>
<rect x="314.07" y="285.2" width="4.39" height="14.3" fill="#F2716C" stroke="#1f1f1f" stroke-width="0.75"/>
<rect x="318.46" y="275.2" width="4.39" height="24.3" fill="#F2716C" stroke="#1f1f1f" stroke-width="0.75"/>
<rect x="322.85" y="266.1" width="4.39" height="33.4" fill="#F2716C" stroke="#1f1f1f" stroke-width="0.75"/>
<rect x="327.24" y="251.6" width="4.39" height="47.9" fill="#F2716C" stroke="#1f1f1f" stroke-width="0.75"/>
<rect x="331.63" y="272.5" width="4.39" height="27" fill="#F2716C" stroke="#1f1f1f" stroke-width="0.75"/>
<rect x="336.02" y="294.3" width="4.39" height="5.2" fill="#F2716C" stroke="#1f1f1f" stroke-width="0.75"/>
<rect x="340.41" y="298.8" width="4.39" height="0.7" fill="#F2716C" stroke="#1f1f1f" stroke-width="0.75"/>
<rect x="206.4" y="249.3" width="144.6" height="52.7" fill="none" stroke="#333" stroke-width="1"/>
<line x1="204.4" y1="299.5" x2="206.4" y2="299.5" stroke="#333" stroke-width="0.8"/>
<text x="203.6" y="301.84" font-size="6.5" text-anchor="end" font-weight="normal" fill="#4D4D4D" stroke="#4D4D4D" stroke-width="0.18">0</text>
<line x1="204.4" y1="288.6" x2="206.4" y2="288.6" stroke="#333" stroke-width="0.8"/>
<text x="203.6" y="290.94" font-size="6.5" text-anchor="end" font-weight="normal" fill="#4D4D4D" stroke="#4D4D4D" stroke-width="0.18">100</text>
<line x1="204.4" y1="277.7" x2="206.4" y2="277.7" stroke="#333" stroke-width="0.8"/>
<text x="203.6" y="280.04" font-size="6.5" text-anchor="end" font-weight="normal" fill="#4D4D4D" stroke="#4D4D4D" stroke-width="0.18">200</text>
<line x1="204.4" y1="266.8" x2="206.4" y2="266.8" stroke="#333" stroke-width="0.8"/>
<text x="203.6" y="269.14" font-size="6.5" text-anchor="end" font-weight="normal" fill="#4D4D4D" stroke="#4D4D4D" stroke-width="0.18">300</text>
<line x1="204.4" y1="255.9" x2="206.4" y2="255.9" stroke="#333" stroke-width="0.8"/>
<text x="203.6" y="258.24" font-size="6.5" text-anchor="end" font-weight="normal" fill="#4D4D4D" stroke="#4D4D4D" stroke-width="0.18">400</text>
<line x1="209" y1="302" x2="209" y2="304" stroke="#333" stroke-width="0.8"/>
<text x="209" y="311" font-size="6.5" text-anchor="middle" font-weight="normal" fill="#4D4D4D" stroke="#4D4D4D" stroke-width="0.18">−4</text>
<line x1="239.2" y1="302" x2="239.2" y2="304" stroke="#333" stroke-width="0.8"/>
<text x="239.2" y="311" font-size="6.5" text-anchor="middle" font-weight="normal" fill="#4D4D4D" stroke="#4D4D4D" stroke-width="0.18">−3</text>
<line x1="269.4" y1="302" x2="269.4" y2="304" stroke="#333" stroke-width="0.8"/>
<text x="269.4" y="311" font-size="6.5" text-anchor="middle" font-weight="normal" fill="#4D4D4D" stroke="#4D4D4D" stroke-width="0.18">−2</text>
<line x1="299.4" y1="302" x2="299.4" y2="304" stroke="#333" stroke-width="0.8"/>
<text x="299.4" y="311" font-size="6.5" text-anchor="middle" font-weight="normal" fill="#4D4D4D" stroke="#4D4D4D" stroke-width="0.18">−1</text>
<line x1="329.4" y1="302" x2="329.4" y2="304" stroke="#333" stroke-width="0.8"/>
<text x="329.4" y="311" font-size="6.5" text-anchor="middle" font-weight="normal" fill="#4D4D4D" stroke="#4D4D4D" stroke-width="0.18">0</text>
<text x="280.8" y="319.3" font-size="8.3" text-anchor="middle" font-weight="bold" fill="#000" stroke="#000" stroke-width="0.22">Δ RBD expression</text>
<rect x="206.7" y="323.5" width="144.3" height="52.1" fill="#fff" stroke="none" stroke-width="1"/>
<line x1="206.7" y1="367.1" x2="351" y2="367.1" stroke="#F3F3F3" stroke-width="0.6"/>
<line x1="206.7" y1="355.5" x2="351" y2="355.5" stroke="#F3F3F3" stroke-width="0.6"/>
<line x1="206.7" y1="343.9" x2="351" y2="343.9" stroke="#F3F3F3" stroke-width="0.6"/>
<line x1="206.7" y1="332.3" x2="351" y2="332.3" stroke="#F3F3F3" stroke-width="0.6"/>
<line x1="241" y1="323.5" x2="241" y2="375.6" stroke="#F3F3F3" stroke-width="0.6"/>
<line x1="291.2" y1="323.5" x2="291.2" y2="375.6" stroke="#F3F3F3" stroke-width="0.6"/>
<line x1="341.5" y1="323.5" x2="341.5" y2="375.6" stroke="#F3F3F3" stroke-width="0.6"/>
<line x1="206.7" y1="372.9" x2="351" y2="372.9" stroke="#EBEBEB" stroke-width="0.8"/>
<line x1="206.7" y1="361.3" x2="351" y2="361.3" stroke="#EBEBEB" stroke-width="0.8"/>
<line x1="206.7" y1="349.7" x2="351" y2="349.7" stroke="#EBEBEB" stroke-width="0.8"/>
<line x1="206.7" y1="338.1" x2="351" y2="338.1" stroke="#EBEBEB" stroke-width="0.8"/>
<line x1="206.7" y1="326.5" x2="351" y2="326.5" stroke="#EBEBEB" stroke-width="0.8"/>
<line x1="215.8" y1="323.5" x2="215.8" y2="375.6" stroke="#EBEBEB" stroke-width="0.8"/>
<line x1="266.1" y1="323.5" x2="266.1" y2="375.6" stroke="#EBEBEB" stroke-width="0.8"/>
<line x1="316.4" y1="323.5" x2="316.4" y2="375.6" stroke="#EBEBEB" stroke-width="0.8"/>
<rect x="213.4" y="340.8" width="4.4" height="32.1" fill="#DDA21E" stroke="#1f1f1f" stroke-width="0.75"/>
<rect x="217.8" y="326" width="4.4" height="46.9" fill="#DDA21E" stroke="#1f1f1f" stroke-width="0.75"/>
<rect x="222.2" y="369.6" width="4.4" height="3.3" fill="#DDA21E" stroke="#1f1f1f" stroke-width="0.75"/>
<rect x="226.6" y="371.8" width="4.4" height="1.1" fill="#DDA21E" stroke="#1f1f1f" stroke-width="0.75"/>
<rect x="231" y="372.2" width="4.4" height="0.7" fill="#DDA21E" stroke="#1f1f1f" stroke-width="0.75"/>
<rect x="235.4" y="372" width="4.4" height="0.9" fill="#DDA21E" stroke="#1f1f1f" stroke-width="0.75"/>
<rect x="239.8" y="371.9" width="4.4" height="1" fill="#DDA21E" stroke="#1f1f1f" stroke-width="0.75"/>
<rect x="244.2" y="372.2" width="4.4" height="0.7" fill="#DDA21E" stroke="#1f1f1f" stroke-width="0.75"/>
<rect x="248.6" y="372.2" width="4.4" height="0.7" fill="#DDA21E" stroke="#1f1f1f" stroke-width="0.75"/>
<rect x="253" y="372.2" width="4.4" height="0.7" fill="#DDA21E" stroke="#1f1f1f" stroke-width="0.75"/>
<rect x="257.4" y="372.4" width="4.4" height="0.5" fill="#DDA21E" stroke="#1f1f1f" stroke-width="0.75"/>
<rect x="261.8" y="372.4" width="4.4" height="0.5" fill="#DDA21E" stroke="#1f1f1f" stroke-width="0.75"/>
<rect x="266.2" y="372.5" width="4.4" height="0.4" fill="#DDA21E" stroke="#1f1f1f" stroke-width="0.75"/>
<rect x="270.6" y="372.5" width="4.4" height="0.4" fill="#DDA21E" stroke="#1f1f1f" stroke-width="0.75"/>
<rect x="275" y="372.5" width="4.4" height="0.4" fill="#DDA21E" stroke="#1f1f1f" stroke-width="0.75"/>
<rect x="279.4" y="372.6" width="4.4" height="0.3" fill="#DDA21E" stroke="#1f1f1f" stroke-width="0.75"/>
<rect x="283.8" y="372.6" width="4.4" height="0.3" fill="#DDA21E" stroke="#1f1f1f" stroke-width="0.75"/>
<rect x="288.2" y="372.6" width="4.4" height="0.3" fill="#DDA21E" stroke="#1f1f1f" stroke-width="0.75"/>
<rect x="292.6" y="372.65" width="4.4" height="0.25" fill="#DDA21E" stroke="#1f1f1f" stroke-width="0.75"/>
<rect x="297" y="372.65" width="4.4" height="0.25" fill="#DDA21E" stroke="#1f1f1f" stroke-width="0.75"/>
<rect x="301.4" y="372.65" width="4.4" height="0.25" fill="#DDA21E" stroke="#1f1f1f" stroke-width="0.75"/>
<rect x="305.8" y="372.65" width="4.4" height="0.25" fill="#DDA21E" stroke="#1f1f1f" stroke-width="0.75"/>
<rect x="310.2" y="372.65" width="4.4" height="0.25" fill="#DDA21E" stroke="#1f1f1f" stroke-width="0.75"/>
<rect x="314.6" y="372.65" width="4.4" height="0.25" fill="#DDA21E" stroke="#1f1f1f" stroke-width="0.75"/>
<rect x="319" y="372.65" width="4.4" height="0.25" fill="#DDA21E" stroke="#1f1f1f" stroke-width="0.75"/>
<rect x="323.4" y="372.65" width="4.4" height="0.25" fill="#DDA21E" stroke="#1f1f1f" stroke-width="0.75"/>
<rect x="327.8" y="372.65" width="4.4" height="0.25" fill="#DDA21E" stroke="#1f1f1f" stroke-width="0.75"/>
<rect x="332.2" y="372.65" width="4.4" height="0.25" fill="#DDA21E" stroke="#1f1f1f" stroke-width="0.75"/>
<rect x="336.6" y="372.65" width="4.4" height="0.25" fill="#DDA21E" stroke="#1f1f1f" stroke-width="0.75"/>
<rect x="341" y="372.65" width="4.4" height="0.25" fill="#DDA21E" stroke="#1f1f1f" stroke-width="0.75"/>
<rect x="206.7" y="323.5" width="144.3" height="52.1" fill="none" stroke="#333" stroke-width="1"/>
<line x1="204.7" y1="372.9" x2="206.7" y2="372.9" stroke="#333" stroke-width="0.8"/>
<text x="203.9" y="375.24" font-size="6.5" text-anchor="end" font-weight="normal" fill="#4D4D4D" stroke="#4D4D4D" stroke-width="0.18">0</text>
<line x1="204.7" y1="361.3" x2="206.7" y2="361.3" stroke="#333" stroke-width="0.8"/>
<text x="203.9" y="363.64" font-size="6.5" text-anchor="end" font-weight="normal" fill="#4D4D4D" stroke="#4D4D4D" stroke-width="0.18">200</text>
<line x1="204.7" y1="349.7" x2="206.7" y2="349.7" stroke="#333" stroke-width="0.8"/>
<text x="203.9" y="352.04" font-size="6.5" text-anchor="end" font-weight="normal" fill="#4D4D4D" stroke="#4D4D4D" stroke-width="0.18">400</text>
<line x1="204.7" y1="338.1" x2="206.7" y2="338.1" stroke="#333" stroke-width="0.8"/>
<text x="203.9" y="340.44" font-size="6.5" text-anchor="end" font-weight="normal" fill="#4D4D4D" stroke="#4D4D4D" stroke-width="0.18">600</text>
<line x1="204.7" y1="326.5" x2="206.7" y2="326.5" stroke="#333" stroke-width="0.8"/>
<text x="203.9" y="328.84" font-size="6.5" text-anchor="end" font-weight="normal" fill="#4D4D4D" stroke="#4D4D4D" stroke-width="0.18">800</text>
<line x1="215.8" y1="375.6" x2="215.8" y2="377.6" stroke="#333" stroke-width="0.8"/>
<text x="215.8" y="385" font-size="6.5" text-anchor="middle" font-weight="normal" fill="#4D4D4D" stroke="#4D4D4D" stroke-width="0.18">0.00</text>
<line x1="266.1" y1="375.6" x2="266.1" y2="377.6" stroke="#333" stroke-width="0.8"/>
<text x="266.1" y="385" font-size="6.5" text-anchor="middle" font-weight="normal" fill="#4D4D4D" stroke="#4D4D4D" stroke-width="0.18">0.05</text>
<line x1="316.4" y1="375.6" x2="316.4" y2="377.6" stroke="#333" stroke-width="0.8"/>
<text x="316.4" y="385" font-size="6.5" text-anchor="middle" font-weight="normal" fill="#4D4D4D" stroke="#4D4D4D" stroke-width="0.18">0.10</text>
<text x="280.4" y="395.7" font-size="8.3" text-anchor="middle" font-weight="bold" fill="#000" stroke="#000" stroke-width="0.22">Mean antibody escape</text>
<rect x="381.9" y="175.3" width="184.4" height="98.2" fill="#fff" stroke="none" stroke-width="1"/>
<line x1="381.9" y1="254.68" x2="566.3" y2="254.68" stroke="#F3F3F3" stroke-width="0.6"/>
<line x1="381.9" y1="225.24" x2="566.3" y2="225.24" stroke="#F3F3F3" stroke-width="0.6"/>
<line x1="381.9" y1="195.8" x2="566.3" y2="195.8" stroke="#F3F3F3" stroke-width="0.6"/>
<line x1="381.9" y1="269.4" x2="566.3" y2="269.4" stroke="#EBEBEB" stroke-width="0.8"/>
<line x1="381.9" y1="239.96" x2="566.3" y2="239.96" stroke="#EBEBEB" stroke-width="0.8"/>
<line x1="381.9" y1="210.52" x2="566.3" y2="210.52" stroke="#EBEBEB" stroke-width="0.8"/>
<line x1="381.9" y1="181.08" x2="566.3" y2="181.08" stroke="#EBEBEB" stroke-width="0.8"/>
<line x1="395.5" y1="175.3" x2="395.5" y2="273.5" stroke="#EBEBEB" stroke-width="0.8"/>
<line x1="418.05" y1="175.3" x2="418.05" y2="273.5" stroke="#EBEBEB" stroke-width="0.8"/>
<line x1="440.6" y1="175.3" x2="440.6" y2="273.5" stroke="#EBEBEB" stroke-width="0.8"/>
<line x1="463.15" y1="175.3" x2="463.15" y2="273.5" stroke="#EBEBEB" stroke-width="0.8"/>
<line x1="485.7" y1="175.3" x2="485.7" y2="273.5" stroke="#EBEBEB" stroke-width="0.8"/>
<line x1="508.25" y1="175.3" x2="508.25" y2="273.5" stroke="#EBEBEB" stroke-width="0.8"/>
<line x1="530.8" y1="175.3" x2="530.8" y2="273.5" stroke="#EBEBEB" stroke-width="0.8"/>
<line x1="553.35" y1="175.3" x2="553.35" y2="273.5" stroke="#EBEBEB" stroke-width="0.8"/>
<rect x="381.9" y="277.8" width="184.4" height="98.6" fill="#fff" stroke="none" stroke-width="1"/>
<line x1="381.9" y1="366.12" x2="566.3" y2="366.12" stroke="#F3F3F3" stroke-width="0.6"/>
<line x1="381.9" y1="345.88" x2="566.3" y2="345.88" stroke="#F3F3F3" stroke-width="0.6"/>
<line x1="381.9" y1="325.62" x2="566.3" y2="325.62" stroke="#F3F3F3" stroke-width="0.6"/>
<line x1="381.9" y1="305.38" x2="566.3" y2="305.38" stroke="#F3F3F3" stroke-width="0.6"/>
<line x1="381.9" y1="285.12" x2="566.3" y2="285.12" stroke="#F3F3F3" stroke-width="0.6"/>
<line x1="381.9" y1="376.25" x2="566.3" y2="376.25" stroke="#EBEBEB" stroke-width="0.8"/>
<line x1="381.9" y1="356" x2="566.3" y2="356" stroke="#EBEBEB" stroke-width="0.8"/>
<line x1="381.9" y1="335.75" x2="566.3" y2="335.75" stroke="#EBEBEB" stroke-width="0.8"/>
<line x1="381.9" y1="315.5" x2="566.3" y2="315.5" stroke="#EBEBEB" stroke-width="0.8"/>
<line x1="381.9" y1="295.25" x2="566.3" y2="295.25" stroke="#EBEBEB" stroke-width="0.8"/>
<line x1="395.5" y1="277.8" x2="395.5" y2="376.4" stroke="#EBEBEB" stroke-width="0.8"/>
<line x1="418.05" y1="277.8" x2="418.05" y2="376.4" stroke="#EBEBEB" stroke-width="0.8"/>
<line x1="440.6" y1="277.8" x2="440.6" y2="376.4" stroke="#EBEBEB" stroke-width="0.8"/>
<line x1="463.15" y1="277.8" x2="463.15" y2="376.4" stroke="#EBEBEB" stroke-width="0.8"/>
<line x1="485.7" y1="277.8" x2="485.7" y2="376.4" stroke="#EBEBEB" stroke-width="0.8"/>
<line x1="508.25" y1="277.8" x2="508.25" y2="376.4" stroke="#EBEBEB" stroke-width="0.8"/>
<line x1="530.8" y1="277.8" x2="530.8" y2="376.4" stroke="#EBEBEB" stroke-width="0.8"/>
<line x1="553.35" y1="277.8" x2="553.35" y2="376.4" stroke="#EBEBEB" stroke-width="0.8"/>
<line x1="395.5" y1="240" x2="395.5" y2="269.4" stroke="#333" stroke-width="0.8"/>
<rect x="386.9" y="256.6" width="17.2" height="12.7" fill="#CD5C5C" stroke="#2a2a2a" stroke-width="0.8"/>
<line x1="386.9" y1="261.8" x2="404.1" y2="261.8" stroke="#2a2a2a" stroke-width="1.6"/>
<rect x="394.05" y="202.05" width="2.9" height="37.9" fill="#2a2a2a" stroke="none" stroke-width="0" rx="1.45"/>
<circle cx="395.5" cy="191.1" r="1.45" fill="#2a2a2a"/>
<circle cx="395.5" cy="184.9" r="1.45" fill="#2a2a2a"/>
<circle cx="395.5" cy="182" r="1.45" fill="#2a2a2a"/>
<line x1="418.05" y1="232.6" x2="418.05" y2="269.4" stroke="#333" stroke-width="0.8"/>
<rect x="409.45" y="253.9" width="17.2" height="15.4" fill="#CD5C5C" stroke="#2a2a2a" stroke-width="0.8"/>
<line x1="409.45" y1="261.8" x2="426.65" y2="261.8" stroke="#2a2a2a" stroke-width="1.6"/>
<rect x="416.6" y="190.45" width="2.9" height="42.1" fill="#2a2a2a" stroke="none" stroke-width="0" rx="1.45"/>
<circle cx="418.05" cy="184.9" r="1.45" fill="#2a2a2a"/>
<circle cx="418.05" cy="182.4" r="1.45" fill="#2a2a2a"/>
<line x1="440.6" y1="223.4" x2="440.6" y2="269.4" stroke="#333" stroke-width="0.8"/>
<rect x="432" y="249.9" width="17.2" height="19.4" fill="#CD5C5C" stroke="#2a2a2a" stroke-width="0.8"/>
<line x1="432" y1="261.8" x2="449.2" y2="261.8" stroke="#2a2a2a" stroke-width="1.6"/>
<rect x="439.15" y="189.65" width="2.9" height="33.7" fill="#2a2a2a" stroke="none" stroke-width="0" rx="1.45"/>
<circle cx="440.6" cy="186.2" r="1.45" fill="#2a2a2a"/>
<circle cx="440.6" cy="183.7" r="1.45" fill="#2a2a2a"/>
<line x1="463.15" y1="216" x2="463.15" y2="269.4" stroke="#333" stroke-width="0.8"/>
<rect x="454.55" y="248.2" width="17.2" height="21.1" fill="#CD5C5C" stroke="#2a2a2a" stroke-width="0.8"/>
<line x1="454.55" y1="258.9" x2="471.75" y2="258.9" stroke="#2a2a2a" stroke-width="1.6"/>
<rect x="461.7" y="179.05" width="2.9" height="36.9" fill="#2a2a2a" stroke="none" stroke-width="0" rx="1.45"/>
<line x1="485.7" y1="205.5" x2="485.7" y2="269.3" stroke="#333" stroke-width="0.8"/>
<rect x="477.1" y="240.8" width="17.2" height="24" fill="#CD5C5C" stroke="#2a2a2a" stroke-width="0.8"/>
<line x1="477.1" y1="254.4" x2="494.3" y2="254.4" stroke="#2a2a2a" stroke-width="1.6"/>
<rect x="484.25" y="179.55" width="2.9" height="25.9" fill="#2a2a2a" stroke="none" stroke-width="0" rx="1.45"/>
<line x1="508.25" y1="205.5" x2="508.25" y2="268.8" stroke="#333" stroke-width="0.8"/>
<rect x="499.65" y="237" width="17.2" height="20.6" fill="#CD5C5C" stroke="#2a2a2a" stroke-width="0.8"/>
<line x1="499.65" y1="247" x2="516.85" y2="247" stroke="#2a2a2a" stroke-width="1.6"/>
<rect x="506.8" y="188.55" width="2.9" height="16.9" fill="#2a2a2a" stroke="none" stroke-width="0" rx="1.45"/>
<circle cx="508.25" cy="179.4" r="1.45" fill="#2a2a2a"/>
<circle cx="508.25" cy="182.2" r="1.45" fill="#2a2a2a"/>
<circle cx="508.25" cy="185" r="1.45" fill="#2a2a2a"/>
<circle cx="508.25" cy="187.6" r="1.45" fill="#2a2a2a"/>
<line x1="530.8" y1="205.5" x2="530.8" y2="268.8" stroke="#333" stroke-width="0.8"/>
<rect x="522.2" y="235.8" width="17.2" height="20.6" fill="#CD5C5C" stroke="#2a2a2a" stroke-width="0.8"/>
<line x1="522.2" y1="244.5" x2="539.4" y2="244.5" stroke="#2a2a2a" stroke-width="1.6"/>
<rect x="529.35" y="191.05" width="2.9" height="14.4" fill="#2a2a2a" stroke="none" stroke-width="0" rx="1.45"/>
<circle cx="530.8" cy="185.2" r="1.45" fill="#2a2a2a"/>
<circle cx="530.8" cy="187.2" r="1.45" fill="#2a2a2a"/>
<circle cx="530.8" cy="189.4" r="1.45" fill="#2a2a2a"/>
<line x1="553.35" y1="192.9" x2="553.35" y2="268.8" stroke="#333" stroke-width="0.8"/>
<rect x="544.75" y="229.1" width="17.2" height="25.3" fill="#CD5C5C" stroke="#2a2a2a" stroke-width="0.8"/>
<line x1="544.75" y1="237.5" x2="561.95" y2="237.5" stroke="#2a2a2a" stroke-width="1.6"/>
<circle cx="553.35" cy="186" r="1.45" fill="#2a2a2a"/>
<line x1="386.9" y1="313.4" x2="404.1" y2="313.4" stroke="#2a2a2a" stroke-width="1.6"/>
<line x1="418.05" y1="282.4" x2="418.05" y2="339.5" stroke="#333" stroke-width="0.8"/>
<rect x="409.45" y="292.8" width="17.2" height="21.9" fill="#19C5CC" stroke="#2a2a2a" stroke-width="0.8"/>
<line x1="409.45" y1="311.7" x2="426.65" y2="311.7" stroke="#2a2a2a" stroke-width="1.6"/>
<line x1="440.6" y1="288.6" x2="440.6" y2="340.7" stroke="#333" stroke-width="0.8"/>
<rect x="432" y="295.3" width="17.2" height="42.9" fill="#19C5CC" stroke="#2a2a2a" stroke-width="0.8"/>
<line x1="432" y1="314.7" x2="449.2" y2="314.7" stroke="#2a2a2a" stroke-width="1.6"/>
<line x1="463.15" y1="282.4" x2="463.15" y2="340" stroke="#333" stroke-width="0.8"/>
<rect x="454.55" y="294.1" width="17.2" height="20.6" fill="#19C5CC" stroke="#2a2a2a" stroke-width="0.8"/>
<line x1="454.55" y1="308.5" x2="471.75" y2="308.5" stroke="#2a2a2a" stroke-width="1.6"/>
<circle cx="463.15" cy="371.5" r="1.45" fill="#2a2a2a"/>
<line x1="485.7" y1="292.3" x2="485.7" y2="340" stroke="#333" stroke-width="0.8"/>
<rect x="477.1" y="293.6" width="17.2" height="26.8" fill="#19C5CC" stroke="#2a2a2a" stroke-width="0.8"/>
<line x1="477.1" y1="306.7" x2="494.3" y2="306.7" stroke="#2a2a2a" stroke-width="1.6"/>
<line x1="508.25" y1="292.3" x2="508.25" y2="368" stroke="#333" stroke-width="0.8"/>
<rect x="499.65" y="308.5" width="17.2" height="29.7" fill="#19C5CC" stroke="#2a2a2a" stroke-width="0.8"/>
<line x1="499.65" y1="323.3" x2="516.85" y2="323.3" stroke="#2a2a2a" stroke-width="1.6"/>
<line x1="530.8" y1="287.9" x2="530.8" y2="340" stroke="#333" stroke-width="0.8"/>
<rect x="522.2" y="292.3" width="17.2" height="29.3" fill="#19C5CC" stroke="#2a2a2a" stroke-width="0.8"/>
<line x1="522.2" y1="316.6" x2="539.4" y2="316.6" stroke="#2a2a2a" stroke-width="1.6"/>
<line x1="553.35" y1="292.3" x2="553.35" y2="338.2" stroke="#333" stroke-width="0.8"/>
<rect x="544.75" y="303.5" width="17.2" height="23.6" fill="#19C5CC" stroke="#2a2a2a" stroke-width="0.8"/>
<line x1="544.75" y1="315.4" x2="561.95" y2="315.4" stroke="#2a2a2a" stroke-width="1.6"/>
<rect x="381.9" y="175.3" width="184.4" height="98.2" fill="none" stroke="#9a9a9a" stroke-width="0.9"/>
<rect x="566.3" y="175.3" width="13.7" height="98.2" fill="#D9D9D9" stroke="#8a8a8a" stroke-width="0.9"/>
<line x1="566.3" y1="175.3" x2="566.3" y2="273.5" stroke="#555" stroke-width="1.1"/>
<line x1="381.9" y1="175.3" x2="381.9" y2="273.5" stroke="#777" stroke-width="1"/>
<rect x="381.9" y="277.8" width="184.4" height="98.6" fill="none" stroke="#9a9a9a" stroke-width="0.9"/>
<rect x="566.3" y="277.8" width="13.7" height="98.6" fill="#D9D9D9" stroke="#8a8a8a" stroke-width="0.9"/>
<line x1="566.3" y1="277.8" x2="566.3" y2="376.4" stroke="#555" stroke-width="1.1"/>
<line x1="381.9" y1="277.8" x2="381.9" y2="376.4" stroke="#777" stroke-width="1"/>
<line x1="381.9" y1="376.4" x2="566.3" y2="376.4" stroke="#777" stroke-width="1"/>
<text x="571" y="224.4" font-size="6.7" text-anchor="middle" font-weight="bold" fill="#1a1a1a" transform="rotate(90 571 224.4)" stroke="#1a1a1a" stroke-width="0.22">Freq. ≤ 90%</text>
<text x="571" y="327.1" font-size="6.7" text-anchor="middle" font-weight="bold" fill="#1a1a1a" transform="rotate(90 571 327.1)" stroke="#1a1a1a" stroke-width="0.22">Freq. &gt; 90%</text>
<line x1="379.9" y1="269.4" x2="381.9" y2="269.4" stroke="#333" stroke-width="0.8"/>
<text x="378.8" y="271.9" font-size="7" text-anchor="end" font-weight="normal" fill="#4D4D4D" stroke="#4D4D4D" stroke-width="0.18">0</text>
<line x1="379.9" y1="239.96" x2="381.9" y2="239.96" stroke="#333" stroke-width="0.8"/>
<text x="378.8" y="242.46" font-size="7" text-anchor="end" font-weight="normal" fill="#4D4D4D" stroke="#4D4D4D" stroke-width="0.18">2</text>
<line x1="379.9" y1="210.52" x2="381.9" y2="210.52" stroke="#333" stroke-width="0.8"/>
<text x="378.8" y="213.02" font-size="7" text-anchor="end" font-weight="normal" fill="#4D4D4D" stroke="#4D4D4D" stroke-width="0.18">4</text>
<line x1="379.9" y1="181.08" x2="381.9" y2="181.08" stroke="#333" stroke-width="0.8"/>
<text x="378.8" y="183.58" font-size="7" text-anchor="end" font-weight="normal" fill="#4D4D4D" stroke="#4D4D4D" stroke-width="0.18">6</text>
<line x1="379.9" y1="376.25" x2="381.9" y2="376.25" stroke="#333" stroke-width="0.8"/>
<text x="378.8" y="378.75" font-size="7" text-anchor="end" font-weight="normal" fill="#4D4D4D" stroke="#4D4D4D" stroke-width="0.18">4.5</text>
<line x1="379.9" y1="356" x2="381.9" y2="356" stroke="#333" stroke-width="0.8"/>
<text x="378.8" y="358.5" font-size="7" text-anchor="end" font-weight="normal" fill="#4D4D4D" stroke="#4D4D4D" stroke-width="0.18">5.0</text>
<line x1="379.9" y1="335.75" x2="381.9" y2="335.75" stroke="#333" stroke-width="0.8"/>
<text x="378.8" y="338.25" font-size="7" text-anchor="end" font-weight="normal" fill="#4D4D4D" stroke="#4D4D4D" stroke-width="0.18">5.5</text>
<line x1="379.9" y1="315.5" x2="381.9" y2="315.5" stroke="#333" stroke-width="0.8"/>
<text x="378.8" y="318" font-size="7" text-anchor="end" font-weight="normal" fill="#4D4D4D" stroke="#4D4D4D" stroke-width="0.18">6.0</text>
<line x1="379.9" y1="295.25" x2="381.9" y2="295.25" stroke="#333" stroke-width="0.8"/>
<text x="378.8" y="297.75" font-size="7" text-anchor="end" font-weight="normal" fill="#4D4D4D" stroke="#4D4D4D" stroke-width="0.18">6.5</text>
<line x1="395.5" y1="376.4" x2="395.5" y2="378.4" stroke="#333" stroke-width="0.8"/>
<text x="395.5" y="385.6" font-size="7" text-anchor="middle" font-weight="normal" fill="#4D4D4D" stroke="#4D4D4D" stroke-width="0.18">−4</text>
<line x1="418.05" y1="376.4" x2="418.05" y2="378.4" stroke="#333" stroke-width="0.8"/>
<text x="418.05" y="385.6" font-size="7" text-anchor="middle" font-weight="normal" fill="#4D4D4D" stroke="#4D4D4D" stroke-width="0.18">−3</text>
<line x1="440.6" y1="376.4" x2="440.6" y2="378.4" stroke="#333" stroke-width="0.8"/>
<text x="440.6" y="385.6" font-size="7" text-anchor="middle" font-weight="normal" fill="#4D4D4D" stroke="#4D4D4D" stroke-width="0.18">−2</text>
<line x1="463.15" y1="376.4" x2="463.15" y2="378.4" stroke="#333" stroke-width="0.8"/>
<text x="463.15" y="385.6" font-size="7" text-anchor="middle" font-weight="normal" fill="#4D4D4D" stroke="#4D4D4D" stroke-width="0.18">−1</text>
<line x1="485.7" y1="376.4" x2="485.7" y2="378.4" stroke="#333" stroke-width="0.8"/>
<text x="485.7" y="385.6" font-size="7" text-anchor="middle" font-weight="normal" fill="#4D4D4D" stroke="#4D4D4D" stroke-width="0.18">0</text>
<line x1="508.25" y1="376.4" x2="508.25" y2="378.4" stroke="#333" stroke-width="0.8"/>
<text x="508.25" y="385.6" font-size="7" text-anchor="middle" font-weight="normal" fill="#4D4D4D" stroke="#4D4D4D" stroke-width="0.18">1</text>
<line x1="530.8" y1="376.4" x2="530.8" y2="378.4" stroke="#333" stroke-width="0.8"/>
<text x="530.8" y="385.6" font-size="7" text-anchor="middle" font-weight="normal" fill="#4D4D4D" stroke="#4D4D4D" stroke-width="0.18">2</text>
<line x1="553.35" y1="376.4" x2="553.35" y2="378.4" stroke="#333" stroke-width="0.8"/>
<text x="553.35" y="385.6" font-size="7" text-anchor="middle" font-weight="normal" fill="#4D4D4D" stroke="#4D4D4D" stroke-width="0.18">3</text>
<text x="479.4" y="397.3" font-size="8.3" text-anchor="middle" font-weight="bold" fill="#000" stroke="#000" stroke-width="0.22">BLOSUM62 score</text>
<text x="365" y="267.5" font-size="8.2" text-anchor="middle" font-weight="bold" fill="#000" transform="rotate(-90 365 267.5)" stroke="#000" stroke-width="0.22">Log10(no. genomes)</text>
</svg></body></html>
